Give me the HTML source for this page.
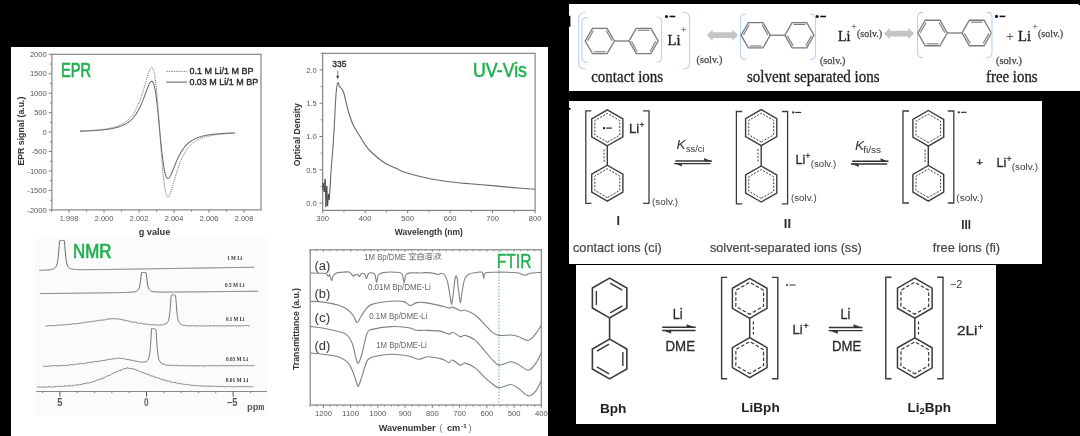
<!DOCTYPE html>
<html><head><meta charset="utf-8"><style>
html,body{margin:0;padding:0;background:#000;}
body{width:1080px;height:436px;overflow:hidden;}
svg{display:block;filter:blur(0.3px);}
</style></head><body>
<svg width="1080" height="436" viewBox="0 0 1080 436">
<rect x="0" y="0" width="1080" height="436" fill="#000"/>
<rect x="11" y="47" width="537" height="389" fill="#fff"/>
<rect x="569" y="4" width="511" height="87" fill="#fff"/>
<rect x="569" y="101" width="473" height="163" fill="#fff"/>
<rect x="576" y="265" width="420" height="159" fill="#fff"/>
<rect x="569" y="15.8" width="1.4" height="11" fill="#000"/>
<circle cx="569.6" cy="108.8" r="1.1" fill="#000"/>
<rect x="1078.6" y="3.5" width="1.4" height="1.6" fill="#000"/>
<path d="M585.20,12.20 Q578.70,12.20 578.70,18.70 L578.70,62.50 Q578.70,69.00 585.20,69.00" fill="none" stroke="#b8d3f0" stroke-width="1.1" stroke-linecap="round"/>
<path d="M587.50,17.40 Q582.00,17.40 582.00,22.90 L582.00,57.00 Q582.00,62.50 587.50,62.50" fill="none" stroke="#b8d3f0" stroke-width="1.1" stroke-linecap="round"/>
<polygon points="614.40,41.00 607.10,53.64 592.50,53.64 585.20,41.00 592.50,28.36 607.10,28.36" fill="none" stroke="#7a7a7a" stroke-width="1.3" />
<polygon points="658.20,41.00 650.90,53.64 636.30,53.64 629.00,41.00 636.30,28.36 650.90,28.36" fill="none" stroke="#7a7a7a" stroke-width="1.3" />
<line x1="587.57" y1="40.68" x2="593.41" y2="30.57" stroke="#7a7a7a" stroke-width="1.105" />
<line x1="606.19" y1="30.57" x2="612.03" y2="40.68" stroke="#7a7a7a" stroke-width="1.105" />
<line x1="605.64" y1="51.75" x2="593.96" y2="51.75" stroke="#7a7a7a" stroke-width="1.105" />
<line x1="637.76" y1="30.25" x2="649.44" y2="30.25" stroke="#7a7a7a" stroke-width="1.105" />
<line x1="637.21" y1="51.43" x2="631.37" y2="41.32" stroke="#7a7a7a" stroke-width="1.105" />
<line x1="655.83" y1="41.32" x2="649.99" y2="51.43" stroke="#7a7a7a" stroke-width="1.105" />
<line x1="614.40" y1="41.00" x2="629.00" y2="41.00" stroke="#7a7a7a" stroke-width="1.3" />
<path d="M656.80,17.00 Q661.60,17.00 661.60,22.50 L661.60,56.80 Q661.60,62.30 656.80,62.30" fill="none" stroke="#b8d3f0" stroke-width="1.1" stroke-linecap="round"/>
<path d="M683.30,12.20 Q689.60,12.20 689.60,18.70 L689.60,62.50 Q689.60,69.00 683.30,69.00" fill="none" stroke="#b8d3f0" stroke-width="1.1" stroke-linecap="round"/>
<circle cx="666.50" cy="16.50" r="1.55" fill="#111"/>
<rect x="669.55" y="15.70" width="5.8" height="1.6" fill="#111"/>
<text x="667.50" y="45.40" font-size="15.5" fill="#1a1a1a" font-family='"Liberation Serif", serif' font-weight="normal" text-anchor="start" textLength="13" lengthAdjust="spacingAndGlyphs" stroke="#1a1a1a" stroke-width="0.35">Li</text>
<text x="683.80" y="33.00" font-size="10.5" fill="#333" font-family='"Liberation Serif", serif' font-weight="normal" text-anchor="middle" >+</text>
<text x="696.60" y="62.80" font-size="10" fill="#444" font-family='"Liberation Serif", serif' font-weight="normal" text-anchor="start" textLength="25.7" lengthAdjust="spacingAndGlyphs" stroke="#444" stroke-width="0.25">(solv.)</text>
<text x="591.20" y="81.60" font-size="16" fill="#1e1e1e" font-family='"Liberation Serif", serif' font-weight="normal" text-anchor="start" textLength="72" lengthAdjust="spacingAndGlyphs" stroke="#1e1e1e" stroke-width="0.3">contact ions</text>
<polygon points="706.90,35.10 712.70,29.50 712.70,32.25 732.30,32.25 732.30,29.50 738.10,35.10 732.30,40.70 732.30,37.95 712.70,37.95 712.70,40.70" fill="#c4c4c4" stroke="none" stroke-width="0" />
<path d="M745.50,14.20 Q740.50,14.20 740.50,19.20 L740.50,54.60 Q740.50,59.60 745.50,59.60" fill="none" stroke="#b8d3f0" stroke-width="1.1" stroke-linecap="round"/>
<polygon points="770.25,35.20 762.95,47.84 748.35,47.84 741.05,35.20 748.35,22.56 762.95,22.56" fill="none" stroke="#7a7a7a" stroke-width="1.3" />
<polygon points="814.05,35.20 806.75,47.84 792.15,47.84 784.85,35.20 792.15,22.56 806.75,22.56" fill="none" stroke="#7a7a7a" stroke-width="1.3" />
<line x1="743.42" y1="34.88" x2="749.26" y2="24.77" stroke="#7a7a7a" stroke-width="1.105" />
<line x1="762.04" y1="24.77" x2="767.88" y2="34.88" stroke="#7a7a7a" stroke-width="1.105" />
<line x1="761.49" y1="45.95" x2="749.81" y2="45.95" stroke="#7a7a7a" stroke-width="1.105" />
<line x1="793.61" y1="24.45" x2="805.29" y2="24.45" stroke="#7a7a7a" stroke-width="1.105" />
<line x1="793.06" y1="45.63" x2="787.22" y2="35.52" stroke="#7a7a7a" stroke-width="1.105" />
<line x1="811.68" y1="35.52" x2="805.84" y2="45.63" stroke="#7a7a7a" stroke-width="1.105" />
<line x1="770.25" y1="35.20" x2="784.85" y2="35.20" stroke="#7a7a7a" stroke-width="1.3" />
<path d="M810.50,14.20 Q815.50,14.20 815.50,19.20 L815.50,54.60 Q815.50,59.60 810.50,59.60" fill="none" stroke="#b8d3f0" stroke-width="1.1" stroke-linecap="round"/>
<circle cx="817.20" cy="16.50" r="1.55" fill="#111"/>
<rect x="820.25" y="15.70" width="5.8" height="1.6" fill="#111"/>
<text x="820.00" y="63.80" font-size="10" fill="#444" font-family='"Liberation Serif", serif' font-weight="normal" text-anchor="start" textLength="25.5" lengthAdjust="spacingAndGlyphs" stroke="#444" stroke-width="0.25">(solv.)</text>
<text x="838.00" y="41.40" font-size="15.5" fill="#1a1a1a" font-family='"Liberation Serif", serif' font-weight="normal" text-anchor="start" textLength="12.5" lengthAdjust="spacingAndGlyphs" stroke="#1a1a1a" stroke-width="0.35">Li</text>
<text x="854.00" y="30.00" font-size="10.5" fill="#333" font-family='"Liberation Serif", serif' font-weight="normal" text-anchor="middle" >+</text>
<text x="857.00" y="37.00" font-size="10" fill="#444" font-family='"Liberation Serif", serif' font-weight="normal" text-anchor="start" textLength="25" lengthAdjust="spacingAndGlyphs" stroke="#444" stroke-width="0.25">(solv.)</text>
<text x="747.00" y="81.60" font-size="16" fill="#1e1e1e" font-family='"Liberation Serif", serif' font-weight="normal" text-anchor="start" textLength="132.6" lengthAdjust="spacingAndGlyphs" stroke="#1e1e1e" stroke-width="0.3">solvent separated ions</text>
<polygon points="884.00,33.60 889.80,28.00 889.80,30.75 908.20,30.75 908.20,28.00 914.00,33.60 908.20,39.20 908.20,36.45 889.80,36.45 889.80,39.20" fill="#c4c4c4" stroke="none" stroke-width="0" />
<path d="M922.60,12.40 Q917.60,12.40 917.60,17.40 L917.60,52.60 Q917.60,57.60 922.60,57.60" fill="none" stroke="#b8d3f0" stroke-width="1.1" stroke-linecap="round"/>
<polygon points="947.30,33.00 939.95,45.73 925.25,45.73 917.90,33.00 925.25,20.27 939.95,20.27" fill="none" stroke="#7a7a7a" stroke-width="1.3" />
<polygon points="991.40,33.00 984.05,45.73 969.35,45.73 962.00,33.00 969.35,20.27 984.05,20.27" fill="none" stroke="#7a7a7a" stroke-width="1.3" />
<line x1="920.29" y1="32.68" x2="926.17" y2="22.50" stroke="#7a7a7a" stroke-width="1.105" />
<line x1="939.03" y1="22.50" x2="944.91" y2="32.68" stroke="#7a7a7a" stroke-width="1.105" />
<line x1="938.48" y1="43.82" x2="926.72" y2="43.82" stroke="#7a7a7a" stroke-width="1.105" />
<line x1="970.82" y1="22.18" x2="982.58" y2="22.18" stroke="#7a7a7a" stroke-width="1.105" />
<line x1="970.27" y1="43.50" x2="964.39" y2="33.32" stroke="#7a7a7a" stroke-width="1.105" />
<line x1="989.01" y1="33.32" x2="983.13" y2="43.50" stroke="#7a7a7a" stroke-width="1.105" />
<line x1="947.30" y1="33.00" x2="962.00" y2="33.00" stroke="#7a7a7a" stroke-width="1.3" />
<path d="M987.00,12.40 Q992.00,12.40 992.00,17.40 L992.00,52.60 Q992.00,57.60 987.00,57.60" fill="none" stroke="#b8d3f0" stroke-width="1.1" stroke-linecap="round"/>
<circle cx="996.50" cy="16.40" r="1.55" fill="#111"/>
<rect x="999.55" y="15.60" width="5.8" height="1.6" fill="#111"/>
<text x="996.00" y="63.60" font-size="10" fill="#444" font-family='"Liberation Serif", serif' font-weight="normal" text-anchor="start" textLength="26" lengthAdjust="spacingAndGlyphs" stroke="#444" stroke-width="0.25">(solv.)</text>
<text x="1006.00" y="41.00" font-size="14" fill="#333" font-family='"Liberation Serif", serif' font-weight="normal" text-anchor="start" >+</text>
<text x="1018.00" y="41.00" font-size="15.5" fill="#1a1a1a" font-family='"Liberation Serif", serif' font-weight="normal" text-anchor="start" textLength="13" lengthAdjust="spacingAndGlyphs" stroke="#1a1a1a" stroke-width="0.35">Li</text>
<text x="1035.00" y="29.60" font-size="10.5" fill="#333" font-family='"Liberation Serif", serif' font-weight="normal" text-anchor="middle" >+</text>
<text x="1038.00" y="37.40" font-size="10" fill="#444" font-family='"Liberation Serif", serif' font-weight="normal" text-anchor="start" textLength="25" lengthAdjust="spacingAndGlyphs" stroke="#444" stroke-width="0.25">(solv.)</text>
<text x="986.00" y="81.60" font-size="16" fill="#1e1e1e" font-family='"Liberation Serif", serif' font-weight="normal" text-anchor="start" textLength="51.6" lengthAdjust="spacingAndGlyphs" stroke="#1e1e1e" stroke-width="0.3">free ions</text>
<path d="M591.40,110.80 L585.80,110.80 L585.80,203.30 L591.40,203.30" fill="none" stroke="#3c3c3c" stroke-width="1.3" stroke-linejoin="miter"/>
<path d="M643.10,110.80 L649.00,110.80 L649.00,203.30 L643.10,203.30" fill="none" stroke="#3c3c3c" stroke-width="1.3" stroke-linejoin="miter"/>
<polygon points="607.30,145.80 591.71,136.80 591.71,118.80 607.30,109.80 622.89,118.80 622.89,136.80" fill="none" stroke="#3c3c3c" stroke-width="1.4" />
<polygon points="607.30,142.20 594.83,135.00 594.83,120.60 607.30,113.40 619.77,120.60 619.77,135.00" fill="none" stroke="#3c3c3c" stroke-width="1.0" stroke-dasharray="2,1.5"/>
<polygon points="607.30,201.20 591.71,192.20 591.71,174.20 607.30,165.20 622.89,174.20 622.89,192.20" fill="none" stroke="#3c3c3c" stroke-width="1.4" />
<polygon points="607.30,197.60 594.83,190.40 594.83,176.00 607.30,168.80 619.77,176.00 619.77,190.40" fill="none" stroke="#3c3c3c" stroke-width="1.0" stroke-dasharray="2,1.5"/>
<line x1="607.30" y1="145.80" x2="607.30" y2="165.20" stroke="#3c3c3c" stroke-width="1.4" />
<line x1="604.10" y1="149.30" x2="604.10" y2="161.70" stroke="#3c3c3c" stroke-width="1.0" stroke-dasharray="2,1.5"/>
<circle cx="604.0" cy="128.1" r="1.2" fill="#222"/>
<line x1="606.20" y1="128.10" x2="611.80" y2="128.10" stroke="#222" stroke-width="1.2" />
<text x="629.00" y="132.80" font-size="13" fill="#2a2a2a" font-family='"Liberation Sans", sans-serif' font-weight="normal" text-anchor="start" textLength="10.3" lengthAdjust="spacingAndGlyphs" stroke="#2a2a2a" stroke-width="0.3">Li</text>
<text x="639.60" y="128.00" font-size="9" fill="#3c3c3c" font-family='"Liberation Sans", sans-serif' font-weight="bold" text-anchor="start" textLength="4.8" lengthAdjust="spacingAndGlyphs" >+</text>
<text x="652.10" y="204.80" font-size="9.6" fill="#3c3c3c" font-family='"Liberation Sans", sans-serif' font-weight="normal" text-anchor="start" textLength="26" lengthAdjust="spacingAndGlyphs" >(solv.)</text>
<text x="618.30" y="225.00" font-size="12.5" fill="#2a2a2a" font-family='"Liberation Sans", sans-serif' font-weight="bold" text-anchor="middle" >I</text>
<text x="573.00" y="252.20" font-size="12.7" fill="#444" font-family='"Liberation Sans", sans-serif' font-weight="normal" text-anchor="start" textLength="88.7" lengthAdjust="spacingAndGlyphs" stroke="#444" stroke-width="0.2">contact ions (ci)</text>
<text x="676.60" y="149.20" font-size="12.6" fill="#333" font-family='"Liberation Sans", sans-serif' font-weight="normal" text-anchor="start" textLength="9.2" lengthAdjust="spacingAndGlyphs" font-style="italic" >K</text>
<text x="686.00" y="152.40" font-size="9.5" fill="#333" font-family='"Liberation Sans", sans-serif' font-weight="normal" text-anchor="start" textLength="18.4" lengthAdjust="spacingAndGlyphs" >ss/ci</text>
<line x1="675.40" y1="160.90" x2="711.80" y2="160.90" stroke="#333" stroke-width="1.45" />
<polygon points="712.40,161.50 703.80,157.90 704.60,161.50" fill="#333" stroke="none" stroke-width="0" />
<line x1="674.20" y1="163.60" x2="710.60" y2="163.60" stroke="#333" stroke-width="1.45" />
<polygon points="673.60,163.00 682.20,166.60 681.40,163.00" fill="#333" stroke="none" stroke-width="0" />
<path d="M742.20,111.50 L736.40,111.50 L736.40,203.80 L742.20,203.80" fill="none" stroke="#3c3c3c" stroke-width="1.3" stroke-linejoin="miter"/>
<path d="M782.00,111.50 L787.60,111.50 L787.60,203.80 L782.00,203.80" fill="none" stroke="#3c3c3c" stroke-width="1.3" stroke-linejoin="miter"/>
<polygon points="761.20,145.60 745.61,136.60 745.61,118.60 761.20,109.60 776.79,118.60 776.79,136.60" fill="none" stroke="#3c3c3c" stroke-width="1.4" />
<polygon points="761.20,142.00 748.73,134.80 748.73,120.40 761.20,113.20 773.67,120.40 773.67,134.80" fill="none" stroke="#3c3c3c" stroke-width="1.0" stroke-dasharray="2,1.5"/>
<polygon points="761.20,202.00 745.61,193.00 745.61,175.00 761.20,166.00 776.79,175.00 776.79,193.00" fill="none" stroke="#3c3c3c" stroke-width="1.4" />
<polygon points="761.20,198.40 748.73,191.20 748.73,176.80 761.20,169.60 773.67,176.80 773.67,191.20" fill="none" stroke="#3c3c3c" stroke-width="1.0" stroke-dasharray="2,1.5"/>
<line x1="761.20" y1="145.60" x2="761.20" y2="166.00" stroke="#3c3c3c" stroke-width="1.4" />
<line x1="758.00" y1="149.10" x2="758.00" y2="162.50" stroke="#3c3c3c" stroke-width="1.0" stroke-dasharray="2,1.5"/>
<circle cx="793.2" cy="112.4" r="1.1" fill="#222"/>
<line x1="795.20" y1="112.40" x2="801.20" y2="112.40" stroke="#222" stroke-width="1.1" />
<text x="795.60" y="163.90" font-size="13" fill="#2a2a2a" font-family='"Liberation Sans", sans-serif' font-weight="normal" text-anchor="start" textLength="9.8" lengthAdjust="spacingAndGlyphs" stroke="#2a2a2a" stroke-width="0.3">Li</text>
<text x="805.40" y="159.20" font-size="9" fill="#3c3c3c" font-family='"Liberation Sans", sans-serif' font-weight="bold" text-anchor="start" textLength="4.8" lengthAdjust="spacingAndGlyphs" >+</text>
<text x="810.80" y="166.90" font-size="9.6" fill="#3c3c3c" font-family='"Liberation Sans", sans-serif' font-weight="normal" text-anchor="start" textLength="25.5" lengthAdjust="spacingAndGlyphs" >(solv.)</text>
<text x="791.00" y="200.80" font-size="9.6" fill="#3c3c3c" font-family='"Liberation Sans", sans-serif' font-weight="normal" text-anchor="start" textLength="25.8" lengthAdjust="spacingAndGlyphs" >(solv.)</text>
<text x="787.40" y="228.30" font-size="13" fill="#2a2a2a" font-family='"Liberation Sans", sans-serif' font-weight="bold" text-anchor="middle" >II</text>
<text x="710.00" y="252.20" font-size="12.7" fill="#444" font-family='"Liberation Sans", sans-serif' font-weight="normal" text-anchor="start" textLength="151.7" lengthAdjust="spacingAndGlyphs" stroke="#444" stroke-width="0.2">solvent-separated ions (ss)</text>
<text x="855.00" y="149.60" font-size="12.6" fill="#333" font-family='"Liberation Sans", sans-serif' font-weight="normal" text-anchor="start" textLength="9.2" lengthAdjust="spacingAndGlyphs" font-style="italic" >K</text>
<text x="863.20" y="152.60" font-size="9.5" fill="#333" font-family='"Liberation Sans", sans-serif' font-weight="normal" text-anchor="start" textLength="17.8" lengthAdjust="spacingAndGlyphs" >fi/ss</text>
<line x1="852.20" y1="161.30" x2="888.40" y2="161.30" stroke="#333" stroke-width="1.45" />
<polygon points="889.00,161.90 880.40,158.30 881.20,161.90" fill="#333" stroke="none" stroke-width="0" />
<line x1="851.00" y1="164.00" x2="887.20" y2="164.00" stroke="#333" stroke-width="1.45" />
<polygon points="850.40,163.40 859.00,167.00 858.20,163.40" fill="#333" stroke="none" stroke-width="0" />
<path d="M909.00,111.00 L903.00,111.00 L903.00,203.00 L909.00,203.00" fill="none" stroke="#3c3c3c" stroke-width="1.3" stroke-linejoin="miter"/>
<path d="M947.80,111.00 L953.80,111.00 L953.80,203.00 L947.80,203.00" fill="none" stroke="#3c3c3c" stroke-width="1.3" stroke-linejoin="miter"/>
<polygon points="928.30,146.10 912.88,137.20 912.88,119.40 928.30,110.50 943.72,119.40 943.72,137.20" fill="none" stroke="#3c3c3c" stroke-width="1.4" />
<polygon points="928.30,142.50 916.00,135.40 916.00,121.20 928.30,114.10 940.60,121.20 940.60,135.40" fill="none" stroke="#3c3c3c" stroke-width="1.0" stroke-dasharray="2,1.5"/>
<polygon points="928.30,201.10 912.88,192.20 912.88,174.40 928.30,165.50 943.72,174.40 943.72,192.20" fill="none" stroke="#3c3c3c" stroke-width="1.4" />
<polygon points="928.30,197.50 916.00,190.40 916.00,176.20 928.30,169.10 940.60,176.20 940.60,190.40" fill="none" stroke="#3c3c3c" stroke-width="1.0" stroke-dasharray="2,1.5"/>
<line x1="928.30" y1="146.10" x2="928.30" y2="165.50" stroke="#3c3c3c" stroke-width="1.4" />
<line x1="925.10" y1="149.60" x2="925.10" y2="162.00" stroke="#3c3c3c" stroke-width="1.0" stroke-dasharray="2,1.5"/>
<circle cx="958.8" cy="112.3" r="1.1" fill="#222"/>
<line x1="961.00" y1="112.30" x2="966.50" y2="112.30" stroke="#222" stroke-width="1.1" />
<text x="956.30" y="201.00" font-size="9.6" fill="#3c3c3c" font-family='"Liberation Sans", sans-serif' font-weight="normal" text-anchor="start" textLength="26.7" lengthAdjust="spacingAndGlyphs" >(solv.)</text>
<text x="979.50" y="166.40" font-size="11.5" fill="#3c3c3c" font-family='"Liberation Sans", sans-serif' font-weight="bold" text-anchor="middle" >+</text>
<text x="996.40" y="166.90" font-size="13" fill="#2a2a2a" font-family='"Liberation Sans", sans-serif' font-weight="normal" text-anchor="start" textLength="10" lengthAdjust="spacingAndGlyphs" stroke="#2a2a2a" stroke-width="0.3">Li</text>
<text x="1006.60" y="161.60" font-size="9" fill="#3c3c3c" font-family='"Liberation Sans", sans-serif' font-weight="bold" text-anchor="start" textLength="5.2" lengthAdjust="spacingAndGlyphs" >+</text>
<text x="1011.70" y="169.80" font-size="9.6" fill="#3c3c3c" font-family='"Liberation Sans", sans-serif' font-weight="normal" text-anchor="start" textLength="26.5" lengthAdjust="spacingAndGlyphs" >(solv.)</text>
<text x="966.10" y="228.80" font-size="13" fill="#2a2a2a" font-family='"Liberation Sans", sans-serif' font-weight="bold" text-anchor="middle" textLength="9.6" lengthAdjust="spacingAndGlyphs" >III</text>
<text x="932.80" y="252.20" font-size="12.7" fill="#444" font-family='"Liberation Sans", sans-serif' font-weight="normal" text-anchor="start" textLength="67.2" lengthAdjust="spacingAndGlyphs" stroke="#444" stroke-width="0.2">free ions (fi)</text>
<polygon points="609.60,317.90 592.37,307.95 592.37,288.05 609.60,278.10 626.83,288.05 626.83,307.95" fill="none" stroke="#3a3a3a" stroke-width="1.6" />
<line x1="610.12" y1="283.02" x2="622.31" y2="290.06" stroke="#3a3a3a" stroke-width="1.4" />
<line x1="596.37" y1="305.04" x2="596.37" y2="290.96" stroke="#3a3a3a" stroke-width="1.4" />
<line x1="622.31" y1="305.94" x2="610.12" y2="312.98" stroke="#3a3a3a" stroke-width="1.4" />
<polygon points="609.60,378.90 592.37,368.95 592.37,349.05 609.60,339.10 626.83,349.05 626.83,368.95" fill="none" stroke="#3a3a3a" stroke-width="1.6" />
<line x1="596.89" y1="351.06" x2="609.08" y2="344.02" stroke="#3a3a3a" stroke-width="1.4" />
<line x1="622.83" y1="351.96" x2="622.83" y2="366.04" stroke="#3a3a3a" stroke-width="1.4" />
<line x1="609.08" y1="373.98" x2="596.89" y2="366.94" stroke="#3a3a3a" stroke-width="1.4" />
<line x1="609.60" y1="317.90" x2="609.60" y2="339.10" stroke="#3a3a3a" stroke-width="1.6" />
<text x="613.20" y="412.80" font-size="13.5" fill="#222" font-family='"Liberation Sans", sans-serif' font-weight="bold" text-anchor="middle" textLength="26.5" lengthAdjust="spacingAndGlyphs" >Bph</text>
<text x="672.70" y="318.60" font-size="14" fill="#2a2a2a" font-family='"Liberation Sans", sans-serif' font-weight="normal" text-anchor="start" textLength="10.0" lengthAdjust="spacingAndGlyphs" stroke="#2a2a2a" stroke-width="0.3">Li</text>
<line x1="662.20" y1="327.30" x2="695.60" y2="327.30" stroke="#333" stroke-width="1.45" />
<polygon points="696.20,327.80 686.60,324.20 686.60,327.30" fill="#333" stroke="none" stroke-width="0" />
<line x1="662.20" y1="330.50" x2="695.60" y2="330.50" stroke="#333" stroke-width="1.45" />
<polygon points="661.60,330.00 671.20,333.60 671.20,330.50" fill="#333" stroke="none" stroke-width="0" />
<text x="665.50" y="350.60" font-size="14" fill="#2a2a2a" font-family='"Liberation Sans", sans-serif' font-weight="normal" text-anchor="start" textLength="29.5" lengthAdjust="spacingAndGlyphs" stroke="#2a2a2a" stroke-width="0.3">DME</text>
<path d="M727.20,277.40 L721.60,277.40 L721.60,378.70 L727.20,378.70" fill="none" stroke="#3a3a3a" stroke-width="1.4" stroke-linejoin="miter"/>
<path d="M772.00,277.40 L777.80,277.40 L777.80,378.70 L772.00,378.70" fill="none" stroke="#3a3a3a" stroke-width="1.4" stroke-linejoin="miter"/>
<polygon points="749.70,318.30 732.38,308.30 732.38,288.30 749.70,278.30 767.02,288.30 767.02,308.30" fill="none" stroke="#3a3a3a" stroke-width="1.5" />
<polygon points="749.70,314.30 735.84,306.30 735.84,290.30 749.70,282.30 763.56,290.30 763.56,306.30" fill="none" stroke="#3a3a3a" stroke-width="1.2" stroke-dasharray="3.6,2.0" stroke-dashoffset="1"/>
<polygon points="749.70,377.60 732.38,367.60 732.38,347.60 749.70,337.60 767.02,347.60 767.02,367.60" fill="none" stroke="#3a3a3a" stroke-width="1.5" />
<polygon points="749.70,373.60 735.84,365.60 735.84,349.60 749.70,341.60 763.56,349.60 763.56,365.60" fill="none" stroke="#3a3a3a" stroke-width="1.2" stroke-dasharray="3.6,2.0" stroke-dashoffset="1"/>
<line x1="749.70" y1="318.30" x2="749.70" y2="337.60" stroke="#3a3a3a" stroke-width="1.5" />
<line x1="753.40" y1="321.50" x2="753.40" y2="334.50" stroke="#3a3a3a" stroke-width="1.2" stroke-dasharray="3,2.2"/>
<circle cx="787.0" cy="285.0" r="1.0" fill="#333"/>
<line x1="789.40" y1="285.00" x2="795.50" y2="285.00" stroke="#333" stroke-width="1.0" />
<text x="792.60" y="333.70" font-size="13.4" fill="#2a2a2a" font-family='"Liberation Sans", sans-serif' font-weight="normal" text-anchor="start" textLength="10.1" lengthAdjust="spacingAndGlyphs" stroke="#2a2a2a" stroke-width="0.3">Li</text>
<text x="803.20" y="329.00" font-size="9" fill="#3a3a3a" font-family='"Liberation Sans", sans-serif' font-weight="bold" text-anchor="start" textLength="5.6" lengthAdjust="spacingAndGlyphs" >+</text>
<text x="760.50" y="412.40" font-size="13.5" fill="#222" font-family='"Liberation Sans", sans-serif' font-weight="bold" text-anchor="middle" textLength="38.3" lengthAdjust="spacingAndGlyphs" >LiBph</text>
<text x="840.50" y="318.60" font-size="14" fill="#2a2a2a" font-family='"Liberation Sans", sans-serif' font-weight="normal" text-anchor="start" textLength="9.8" lengthAdjust="spacingAndGlyphs" stroke="#2a2a2a" stroke-width="0.3">Li</text>
<line x1="828.80" y1="327.40" x2="862.50" y2="327.40" stroke="#333" stroke-width="1.45" />
<polygon points="863.10,327.90 853.50,324.30 853.50,327.40" fill="#333" stroke="none" stroke-width="0" />
<line x1="828.80" y1="330.60" x2="862.50" y2="330.60" stroke="#333" stroke-width="1.45" />
<polygon points="828.20,330.10 837.80,333.70 837.80,330.60" fill="#333" stroke="none" stroke-width="0" />
<text x="832.00" y="350.60" font-size="14" fill="#2a2a2a" font-family='"Liberation Sans", sans-serif' font-weight="normal" text-anchor="start" textLength="29.2" lengthAdjust="spacingAndGlyphs" stroke="#2a2a2a" stroke-width="0.3">DME</text>
<path d="M891.40,277.20 L885.80,277.20 L885.80,378.80 L891.40,378.80" fill="none" stroke="#3a3a3a" stroke-width="1.4" stroke-linejoin="miter"/>
<path d="M937.20,277.20 L943.00,277.20 L943.00,378.80 L937.20,378.80" fill="none" stroke="#3a3a3a" stroke-width="1.4" stroke-linejoin="miter"/>
<polygon points="914.80,318.20 897.48,308.20 897.48,288.20 914.80,278.20 932.12,288.20 932.12,308.20" fill="none" stroke="#3a3a3a" stroke-width="1.5" />
<polygon points="914.80,314.20 900.94,306.20 900.94,290.20 914.80,282.20 928.66,290.20 928.66,306.20" fill="none" stroke="#3a3a3a" stroke-width="1.2" stroke-dasharray="3.6,2.0" stroke-dashoffset="1"/>
<polygon points="914.80,377.80 897.48,367.80 897.48,347.80 914.80,337.80 932.12,347.80 932.12,367.80" fill="none" stroke="#3a3a3a" stroke-width="1.5" />
<polygon points="914.80,373.80 900.94,365.80 900.94,349.80 914.80,341.80 928.66,349.80 928.66,365.80" fill="none" stroke="#3a3a3a" stroke-width="1.2" stroke-dasharray="3.6,2.0" stroke-dashoffset="1"/>
<line x1="914.80" y1="318.20" x2="914.80" y2="337.80" stroke="#3a3a3a" stroke-width="1.5" />
<line x1="918.50" y1="321.50" x2="918.50" y2="334.50" stroke="#3a3a3a" stroke-width="1.2" stroke-dasharray="3,2.2"/>
<text x="950.00" y="287.60" font-size="11" fill="#3a3a3a" font-family='"Liberation Sans", sans-serif' font-weight="normal" text-anchor="start" textLength="12.4" lengthAdjust="spacingAndGlyphs" >−2</text>
<text x="957.00" y="335.00" font-size="13.4" fill="#2a2a2a" font-family='"Liberation Sans", sans-serif' font-weight="normal" text-anchor="start" textLength="20.5" lengthAdjust="spacingAndGlyphs" stroke="#2a2a2a" stroke-width="0.3">2Li</text>
<text x="977.80" y="329.60" font-size="9" fill="#3a3a3a" font-family='"Liberation Sans", sans-serif' font-weight="bold" text-anchor="start" textLength="5.6" lengthAdjust="spacingAndGlyphs" >+</text>
<text x="907.5" y="411.5" font-size="13.5" fill="#222" font-family='"Liberation Sans", sans-serif' font-weight="bold">Li<tspan font-size="9.5" dy="2.8">2</tspan><tspan dy="-2.8">Bph</tspan></text>
<rect x="51.9" y="54.3" width="209.10" height="155.60" fill="none" stroke="#7a7a7a" stroke-width="1.1"/>
<line x1="48.70" y1="54.30" x2="51.90" y2="54.30" stroke="#7a7a7a" stroke-width="1" />
<text x="46.80" y="57.00" font-size="7.6" fill="#555" font-family='"Liberation Sans", sans-serif' font-weight="normal" text-anchor="end" >2000</text>
<line x1="49.90" y1="64.03" x2="51.90" y2="64.03" stroke="#7a7a7a" stroke-width="0.9" />
<line x1="48.70" y1="73.75" x2="51.90" y2="73.75" stroke="#7a7a7a" stroke-width="1" />
<text x="46.80" y="76.45" font-size="7.6" fill="#555" font-family='"Liberation Sans", sans-serif' font-weight="normal" text-anchor="end" >1500</text>
<line x1="49.90" y1="83.47" x2="51.90" y2="83.47" stroke="#7a7a7a" stroke-width="0.9" />
<line x1="48.70" y1="93.20" x2="51.90" y2="93.20" stroke="#7a7a7a" stroke-width="1" />
<text x="46.80" y="95.90" font-size="7.6" fill="#555" font-family='"Liberation Sans", sans-serif' font-weight="normal" text-anchor="end" >1000</text>
<line x1="49.90" y1="102.93" x2="51.90" y2="102.93" stroke="#7a7a7a" stroke-width="0.9" />
<line x1="48.70" y1="112.65" x2="51.90" y2="112.65" stroke="#7a7a7a" stroke-width="1" />
<text x="46.80" y="115.35" font-size="7.6" fill="#555" font-family='"Liberation Sans", sans-serif' font-weight="normal" text-anchor="end" >500</text>
<line x1="49.90" y1="122.38" x2="51.90" y2="122.38" stroke="#7a7a7a" stroke-width="0.9" />
<line x1="48.70" y1="132.10" x2="51.90" y2="132.10" stroke="#7a7a7a" stroke-width="1" />
<text x="46.80" y="134.80" font-size="7.6" fill="#555" font-family='"Liberation Sans", sans-serif' font-weight="normal" text-anchor="end" >0</text>
<line x1="49.90" y1="141.83" x2="51.90" y2="141.83" stroke="#7a7a7a" stroke-width="0.9" />
<line x1="48.70" y1="151.55" x2="51.90" y2="151.55" stroke="#7a7a7a" stroke-width="1" />
<text x="46.80" y="154.25" font-size="7.6" fill="#555" font-family='"Liberation Sans", sans-serif' font-weight="normal" text-anchor="end" >-500</text>
<line x1="49.90" y1="161.28" x2="51.90" y2="161.28" stroke="#7a7a7a" stroke-width="0.9" />
<line x1="48.70" y1="171.00" x2="51.90" y2="171.00" stroke="#7a7a7a" stroke-width="1" />
<text x="46.80" y="173.70" font-size="7.6" fill="#555" font-family='"Liberation Sans", sans-serif' font-weight="normal" text-anchor="end" >-1000</text>
<line x1="49.90" y1="180.72" x2="51.90" y2="180.72" stroke="#7a7a7a" stroke-width="0.9" />
<line x1="48.70" y1="190.45" x2="51.90" y2="190.45" stroke="#7a7a7a" stroke-width="1" />
<text x="46.80" y="193.15" font-size="7.6" fill="#555" font-family='"Liberation Sans", sans-serif' font-weight="normal" text-anchor="end" >-1500</text>
<line x1="49.90" y1="200.18" x2="51.90" y2="200.18" stroke="#7a7a7a" stroke-width="0.9" />
<line x1="48.70" y1="209.90" x2="51.90" y2="209.90" stroke="#7a7a7a" stroke-width="1" />
<text x="46.80" y="212.60" font-size="7.6" fill="#555" font-family='"Liberation Sans", sans-serif' font-weight="normal" text-anchor="end" >-2000</text>
<line x1="69.05" y1="209.90" x2="69.05" y2="212.70" stroke="#7a7a7a" stroke-width="1" />
<text x="69.05" y="220.90" font-size="7.6" fill="#555" font-family='"Liberation Sans", sans-serif' font-weight="normal" text-anchor="middle" textLength="18.4" lengthAdjust="spacingAndGlyphs" >1.998</text>
<line x1="86.55" y1="209.90" x2="86.55" y2="211.90" stroke="#7a7a7a" stroke-width="0.9" />
<line x1="104.05" y1="209.90" x2="104.05" y2="212.70" stroke="#7a7a7a" stroke-width="1" />
<text x="104.05" y="220.90" font-size="7.6" fill="#555" font-family='"Liberation Sans", sans-serif' font-weight="normal" text-anchor="middle" textLength="18.4" lengthAdjust="spacingAndGlyphs" >2.000</text>
<line x1="121.55" y1="209.90" x2="121.55" y2="211.90" stroke="#7a7a7a" stroke-width="0.9" />
<line x1="139.05" y1="209.90" x2="139.05" y2="212.70" stroke="#7a7a7a" stroke-width="1" />
<text x="139.05" y="220.90" font-size="7.6" fill="#555" font-family='"Liberation Sans", sans-serif' font-weight="normal" text-anchor="middle" textLength="18.4" lengthAdjust="spacingAndGlyphs" >2.002</text>
<line x1="156.55" y1="209.90" x2="156.55" y2="211.90" stroke="#7a7a7a" stroke-width="0.9" />
<line x1="174.05" y1="209.90" x2="174.05" y2="212.70" stroke="#7a7a7a" stroke-width="1" />
<text x="174.05" y="220.90" font-size="7.6" fill="#555" font-family='"Liberation Sans", sans-serif' font-weight="normal" text-anchor="middle" textLength="18.4" lengthAdjust="spacingAndGlyphs" >2.004</text>
<line x1="191.55" y1="209.90" x2="191.55" y2="211.90" stroke="#7a7a7a" stroke-width="0.9" />
<line x1="209.05" y1="209.90" x2="209.05" y2="212.70" stroke="#7a7a7a" stroke-width="1" />
<text x="209.05" y="220.90" font-size="7.6" fill="#555" font-family='"Liberation Sans", sans-serif' font-weight="normal" text-anchor="middle" textLength="18.4" lengthAdjust="spacingAndGlyphs" >2.006</text>
<line x1="226.55" y1="209.90" x2="226.55" y2="211.90" stroke="#7a7a7a" stroke-width="0.9" />
<line x1="244.05" y1="209.90" x2="244.05" y2="212.70" stroke="#7a7a7a" stroke-width="1" />
<text x="244.05" y="220.90" font-size="7.6" fill="#555" font-family='"Liberation Sans", sans-serif' font-weight="normal" text-anchor="middle" textLength="18.4" lengthAdjust="spacingAndGlyphs" >2.008</text>
<line x1="51.55" y1="209.90" x2="51.55" y2="211.90" stroke="#7a7a7a" stroke-width="0.9" />
<text x="154.50" y="235.20" font-size="9" fill="#333" font-family='"Liberation Sans", sans-serif' font-weight="bold" text-anchor="middle" textLength="31.5" lengthAdjust="spacingAndGlyphs" >g value</text>
<text x="0" y="0" font-size="8.7" fill="#333" font-family='"Liberation Sans", sans-serif' font-weight="bold" text-anchor="middle" textLength="69" lengthAdjust="spacingAndGlyphs" transform="translate(24.4,131.1) rotate(-90)">EPR signal (a.u.)</text>
<path d="M80.00,130.97 L80.50,130.95 L81.00,130.93 L81.50,130.91 L82.00,130.89 L82.50,130.87 L83.00,130.85 L83.50,130.82 L84.00,130.80 L84.50,130.78 L85.00,130.76 L85.50,130.73 L86.00,130.71 L86.50,130.68 L87.00,130.66 L87.50,130.63 L88.00,130.60 L88.50,130.57 L89.00,130.54 L89.50,130.51 L90.00,130.48 L90.50,130.45 L91.00,130.42 L91.50,130.39 L92.00,130.35 L92.50,130.32 L93.00,130.28 L93.50,130.25 L94.00,130.21 L94.50,130.17 L95.00,130.13 L95.50,130.09 L96.00,130.04 L96.50,130.00 L97.00,129.96 L97.50,129.91 L98.00,129.86 L98.50,129.81 L99.00,129.76 L99.50,129.71 L100.00,129.66 L100.50,129.60 L101.00,129.54 L101.50,129.48 L102.00,129.42 L102.50,129.36 L103.00,129.30 L103.50,129.23 L104.00,129.16 L104.50,129.09 L105.00,129.01 L105.50,128.94 L106.00,128.86 L106.50,128.78 L107.00,128.69 L107.50,128.61 L108.00,128.52 L108.50,128.42 L109.00,128.33 L109.50,128.23 L110.00,128.12 L110.50,128.02 L111.00,127.91 L111.50,127.79 L112.00,127.67 L112.50,127.55 L113.00,127.42 L113.50,127.29 L114.00,127.15 L114.50,127.01 L115.00,126.86 L115.50,126.70 L116.00,126.54 L116.50,126.38 L117.00,126.20 L117.50,126.02 L118.00,125.84 L118.50,125.64 L119.00,125.44 L119.50,125.23 L120.00,125.01 L120.50,124.78 L121.00,124.54 L121.50,124.29 L122.00,124.03 L122.50,123.76 L123.00,123.48 L123.50,123.19 L124.00,122.88 L124.50,122.56 L125.00,122.23 L125.50,121.88 L126.00,121.51 L126.50,121.13 L127.00,120.73 L127.50,120.31 L128.00,119.88 L128.50,119.42 L129.00,118.94 L129.50,118.44 L130.00,117.92 L130.50,117.37 L131.00,116.80 L131.50,116.19 L132.00,115.57 L132.50,114.91 L133.00,114.21 L133.50,113.49 L134.00,112.73 L134.50,111.94 L135.00,111.11 L135.50,110.23 L136.00,109.32 L136.50,108.37 L137.00,107.37 L137.50,106.32 L138.00,105.23 L138.50,104.09 L139.00,102.90 L139.50,101.66 L140.00,100.36 L140.50,99.02 L141.00,97.62 L141.50,96.17 L142.00,94.67 L142.50,93.12 L143.00,91.52 L143.50,89.88 L144.00,88.20 L144.50,86.49 L145.00,84.75 L145.50,82.99 L146.00,81.24 L146.50,79.49 L147.00,77.76 L147.50,76.08 L148.00,74.47 L148.50,72.95 L149.00,71.54 L149.50,70.29 L150.00,69.22 L150.50,68.37 L151.00,67.79 L151.50,67.52 L152.00,67.59 L152.50,68.06 L153.00,68.97 L153.50,70.36 L154.00,72.27 L154.50,74.72 L155.00,77.74 L155.50,81.34 L156.00,85.52 L156.50,90.26 L157.00,95.53 L157.50,101.29 L158.00,107.48 L158.50,114.02 L159.00,120.82 L159.50,127.78 L160.00,134.83 L160.50,141.85 L161.00,148.72 L161.50,155.35 L162.00,161.64 L162.50,167.52 L163.00,172.92 L163.50,177.79 L164.00,182.10 L164.50,185.84 L165.00,188.99 L165.50,191.56 L166.00,193.58 L166.50,195.08 L167.00,196.09 L167.50,196.65 L168.00,196.80 L168.50,196.59 L169.00,196.06 L169.50,195.26 L170.00,194.23 L170.50,193.00 L171.00,191.62 L171.50,190.11 L172.00,188.51 L172.50,186.83 L173.00,185.11 L173.50,183.35 L174.00,181.59 L174.50,179.82 L175.00,178.07 L175.50,176.35 L176.00,174.65 L176.50,173.00 L177.00,171.38 L177.50,169.81 L178.00,168.30 L178.50,166.83 L179.00,165.41 L179.50,164.05 L180.00,162.74 L180.50,161.48 L181.00,160.28 L181.50,159.12 L182.00,158.01 L182.50,156.95 L183.00,155.94 L183.50,154.97 L184.00,154.05 L184.50,153.16 L185.00,152.32 L185.50,151.51 L186.00,150.75 L186.50,150.01 L187.00,149.31 L187.50,148.64 L188.00,148.00 L188.50,147.39 L189.00,146.81 L189.50,146.26 L190.00,145.72 L190.50,145.22 L191.00,144.73 L191.50,144.27 L192.00,143.83 L192.50,143.40 L193.00,143.00 L193.50,142.61 L194.00,142.24 L194.50,141.89 L195.00,141.55 L195.50,141.23 L196.00,140.91 L196.50,140.62 L197.00,140.33 L197.50,140.06 L198.00,139.79 L198.50,139.54 L199.00,139.30 L199.50,139.07 L200.00,138.85 L200.50,138.63 L201.00,138.43 L201.50,138.23 L202.00,138.04 L202.50,137.86 L203.00,137.68 L203.50,137.51 L204.00,137.35 L204.50,137.20 L205.00,137.05 L205.50,136.90 L206.00,136.76 L206.50,136.63 L207.00,136.50 L207.50,136.37 L208.00,136.25 L208.50,136.14 L209.00,136.02 L209.50,135.91 L210.00,135.81 L210.50,135.71 L211.00,135.61 L211.50,135.52 L212.00,135.43 L212.50,135.34 L213.00,135.25 L213.50,135.17 L214.00,135.09 L214.50,135.01 L215.00,134.94 L215.50,134.87 L216.00,134.80 L216.50,134.73 L217.00,134.66 L217.50,134.60 L218.00,134.54 L218.50,134.48 L219.00,134.42 L219.50,134.37 L220.00,134.31 L220.50,134.26 L221.00,134.21 L221.50,134.16 L222.00,134.11 L222.50,134.06 L223.00,134.02 L223.50,133.97 L224.00,133.93 L224.50,133.89 L225.00,133.85 L225.50,133.81 L226.00,133.77 L226.50,133.73 L227.00,133.70 L227.50,133.66 L228.00,133.63 L228.50,133.59 L229.00,133.56 L229.50,133.53 L230.00,133.50 L230.50,133.47 L231.00,133.44 L231.50,133.41 L232.00,133.38 L232.50,133.36 L233.00,133.33 L233.50,133.30 L234.00,133.28 L234.50,133.26 L235.00,133.23" fill="none" stroke="#777" stroke-width="1.0" stroke-dasharray="1.2,0.9"/>
<path d="M80.00,131.19 L80.50,131.17 L81.00,131.16 L81.50,131.14 L82.00,131.12 L82.50,131.11 L83.00,131.09 L83.50,131.07 L84.00,131.06 L84.50,131.04 L85.00,131.02 L85.50,131.00 L86.00,130.98 L86.50,130.96 L87.00,130.94 L87.50,130.92 L88.00,130.90 L88.50,130.88 L89.00,130.85 L89.50,130.83 L90.00,130.81 L90.50,130.78 L91.00,130.76 L91.50,130.73 L92.00,130.70 L92.50,130.68 L93.00,130.65 L93.50,130.62 L94.00,130.59 L94.50,130.56 L95.00,130.53 L95.50,130.49 L96.00,130.46 L96.50,130.43 L97.00,130.39 L97.50,130.35 L98.00,130.32 L98.50,130.28 L99.00,130.24 L99.50,130.20 L100.00,130.15 L100.50,130.11 L101.00,130.07 L101.50,130.02 L102.00,129.97 L102.50,129.92 L103.00,129.87 L103.50,129.82 L104.00,129.76 L104.50,129.71 L105.00,129.65 L105.50,129.59 L106.00,129.53 L106.50,129.46 L107.00,129.40 L107.50,129.33 L108.00,129.26 L108.50,129.18 L109.00,129.11 L109.50,129.03 L110.00,128.95 L110.50,128.86 L111.00,128.78 L111.50,128.69 L112.00,128.59 L112.50,128.49 L113.00,128.39 L113.50,128.29 L114.00,128.18 L114.50,128.07 L115.00,127.95 L115.50,127.83 L116.00,127.70 L116.50,127.57 L117.00,127.44 L117.50,127.29 L118.00,127.15 L118.50,126.99 L119.00,126.83 L119.50,126.67 L120.00,126.49 L120.50,126.31 L121.00,126.13 L121.50,125.93 L122.00,125.73 L122.50,125.51 L123.00,125.29 L123.50,125.06 L124.00,124.82 L124.50,124.57 L125.00,124.30 L125.50,124.03 L126.00,123.74 L126.50,123.44 L127.00,123.12 L127.50,122.79 L128.00,122.45 L128.50,122.09 L129.00,121.72 L129.50,121.32 L130.00,120.91 L130.50,120.48 L131.00,120.03 L131.50,119.55 L132.00,119.06 L132.50,118.54 L133.00,117.99 L133.50,117.42 L134.00,116.82 L134.50,116.20 L135.00,115.54 L135.50,114.86 L136.00,114.14 L136.50,113.39 L137.00,112.60 L137.50,111.78 L138.00,110.92 L138.50,110.02 L139.00,109.08 L139.50,108.10 L140.00,107.08 L140.50,106.02 L141.00,104.92 L141.50,103.78 L142.00,102.60 L142.50,101.38 L143.00,100.12 L143.50,98.82 L144.00,97.50 L144.50,96.15 L145.00,94.78 L145.50,93.40 L146.00,92.02 L146.50,90.64 L147.00,89.28 L147.50,87.96 L148.00,86.69 L148.50,85.49 L149.00,84.38 L149.50,83.40 L150.00,82.55 L150.50,81.89 L151.00,81.43 L151.50,81.21 L152.00,81.27 L152.50,81.64 L153.00,82.36 L153.50,83.45 L154.00,84.95 L154.50,86.89 L155.00,89.26 L155.50,92.10 L156.00,95.39 L156.50,99.12 L157.00,103.28 L157.50,107.81 L158.00,112.69 L158.50,117.84 L159.00,123.19 L159.50,128.68 L160.00,134.02 L160.50,139.05 L161.00,143.97 L161.50,148.72 L162.00,153.22 L162.50,157.43 L163.00,161.30 L163.50,164.79 L164.00,167.88 L164.50,170.55 L165.00,172.81 L165.50,174.65 L166.00,176.10 L166.50,177.17 L167.00,177.89 L167.50,178.29 L168.00,178.40 L168.50,178.25 L169.00,177.87 L169.50,177.30 L170.00,176.56 L170.50,175.68 L171.00,174.69 L171.50,173.61 L172.00,172.46 L172.50,171.26 L173.00,170.03 L173.50,168.77 L174.00,167.51 L174.50,166.24 L175.00,164.99 L175.50,163.76 L176.00,162.54 L176.50,161.36 L177.00,160.20 L177.50,159.08 L178.00,157.99 L178.50,156.94 L179.00,155.93 L179.50,154.95 L180.00,154.01 L180.50,153.11 L181.00,152.25 L181.50,151.42 L182.00,150.63 L182.50,149.87 L183.00,149.14 L183.50,148.45 L184.00,147.79 L184.50,147.15 L185.00,146.55 L185.50,145.97 L186.00,145.42 L186.50,144.90 L187.00,144.40 L187.50,143.92 L188.00,143.46 L188.50,143.02 L189.00,142.61 L189.50,142.21 L190.00,141.83 L190.50,141.46 L191.00,141.12 L191.50,140.79 L192.00,140.47 L192.50,140.17 L193.00,139.88 L193.50,139.60 L194.00,139.33 L194.50,139.08 L195.00,138.84 L195.50,138.61 L196.00,138.38 L196.50,138.17 L197.00,137.97 L197.50,137.77 L198.00,137.58 L198.50,137.40 L199.00,137.23 L199.50,137.06 L200.00,136.90 L200.50,136.75 L201.00,136.60 L201.50,136.46 L202.00,136.33 L202.50,136.20 L203.00,136.07 L203.50,135.95 L204.00,135.83 L204.50,135.72 L205.00,135.61 L205.50,135.51 L206.00,135.41 L206.50,135.31 L207.00,135.22 L207.50,135.13 L208.00,135.04 L208.50,134.96 L209.00,134.88 L209.50,134.80 L210.00,134.73 L210.50,134.66 L211.00,134.59 L211.50,134.52 L212.00,134.45 L212.50,134.39 L213.00,134.33 L213.50,134.27 L214.00,134.21 L214.50,134.16 L215.00,134.11 L215.50,134.05 L216.00,134.00 L216.50,133.95 L217.00,133.91 L217.50,133.86 L218.00,133.82 L218.50,133.78 L219.00,133.73 L219.50,133.69 L220.00,133.66 L220.50,133.62 L221.00,133.58 L221.50,133.55 L222.00,133.51 L222.50,133.48 L223.00,133.44 L223.50,133.41 L224.00,133.38 L224.50,133.35 L225.00,133.32 L225.50,133.29 L226.00,133.27 L226.50,133.24 L227.00,133.21 L227.50,133.19 L228.00,133.16 L228.50,133.14 L229.00,133.12 L229.50,133.10 L230.00,133.07 L230.50,133.05 L231.00,133.03 L231.50,133.01 L232.00,132.99 L232.50,132.97 L233.00,132.95 L233.50,132.93 L234.00,132.92 L234.50,132.90 L235.00,132.88" fill="none" stroke="#6e6e6e" stroke-width="1.05" />
<line x1="166.30" y1="71.40" x2="187.00" y2="71.40" stroke="#888" stroke-width="1.0" stroke-dasharray="1.5,1"/>
<line x1="166.30" y1="82.10" x2="187.00" y2="82.10" stroke="#777" stroke-width="1.2" />
<text x="189.40" y="74.40" font-size="9.6" fill="#2a2a2a" font-family='"Liberation Sans", sans-serif' font-weight="normal" text-anchor="start" textLength="64" lengthAdjust="spacingAndGlyphs" stroke="#2a2a2a" stroke-width="0.4">0.1 M Li/1 M BP</text>
<text x="189.40" y="85.20" font-size="9.6" fill="#2a2a2a" font-family='"Liberation Sans", sans-serif' font-weight="normal" text-anchor="start" textLength="68.8" lengthAdjust="spacingAndGlyphs" stroke="#2a2a2a" stroke-width="0.4">0.03 M Li/1 M BP</text>
<text x="61.00" y="77.00" font-size="20" fill="#1fb04f" font-family='"Liberation Sans", sans-serif' font-weight="normal" text-anchor="start" textLength="30.0" lengthAdjust="spacingAndGlyphs" stroke="#1fb04f" stroke-width="0.7">EPR</text>
<rect x="322.7" y="53.3" width="212.40" height="157.10" fill="none" stroke="#7a7a7a" stroke-width="1.1"/>
<line x1="319.50" y1="203.10" x2="322.70" y2="203.10" stroke="#7a7a7a" stroke-width="1" />
<text x="316.80" y="205.80" font-size="7.6" fill="#555" font-family='"Liberation Sans", sans-serif' font-weight="normal" text-anchor="end" >0.0</text>
<line x1="320.70" y1="186.45" x2="322.70" y2="186.45" stroke="#7a7a7a" stroke-width="0.9" />
<line x1="319.50" y1="169.80" x2="322.70" y2="169.80" stroke="#7a7a7a" stroke-width="1" />
<text x="316.80" y="172.50" font-size="7.6" fill="#555" font-family='"Liberation Sans", sans-serif' font-weight="normal" text-anchor="end" >0.5</text>
<line x1="320.70" y1="153.15" x2="322.70" y2="153.15" stroke="#7a7a7a" stroke-width="0.9" />
<line x1="319.50" y1="136.50" x2="322.70" y2="136.50" stroke="#7a7a7a" stroke-width="1" />
<text x="316.80" y="139.20" font-size="7.6" fill="#555" font-family='"Liberation Sans", sans-serif' font-weight="normal" text-anchor="end" >1.0</text>
<line x1="320.70" y1="119.85" x2="322.70" y2="119.85" stroke="#7a7a7a" stroke-width="0.9" />
<line x1="319.50" y1="103.20" x2="322.70" y2="103.20" stroke="#7a7a7a" stroke-width="1" />
<text x="316.80" y="105.90" font-size="7.6" fill="#555" font-family='"Liberation Sans", sans-serif' font-weight="normal" text-anchor="end" >1.5</text>
<line x1="320.70" y1="86.55" x2="322.70" y2="86.55" stroke="#7a7a7a" stroke-width="0.9" />
<line x1="319.50" y1="69.90" x2="322.70" y2="69.90" stroke="#7a7a7a" stroke-width="1" />
<text x="316.80" y="72.60" font-size="7.6" fill="#555" font-family='"Liberation Sans", sans-serif' font-weight="normal" text-anchor="end" >2.0</text>
<line x1="320.70" y1="53.25" x2="322.70" y2="53.25" stroke="#7a7a7a" stroke-width="0.9" />
<line x1="320.70" y1="209.76" x2="322.70" y2="209.76" stroke="#7a7a7a" stroke-width="0" />
<line x1="322.70" y1="210.40" x2="322.70" y2="213.20" stroke="#7a7a7a" stroke-width="1" />
<text x="322.70" y="221.30" font-size="7.6" fill="#555" font-family='"Liberation Sans", sans-serif' font-weight="normal" text-anchor="middle" >300</text>
<line x1="343.94" y1="210.40" x2="343.94" y2="212.40" stroke="#7a7a7a" stroke-width="0.9" />
<line x1="365.18" y1="210.40" x2="365.18" y2="213.20" stroke="#7a7a7a" stroke-width="1" />
<text x="365.18" y="221.30" font-size="7.6" fill="#555" font-family='"Liberation Sans", sans-serif' font-weight="normal" text-anchor="middle" >400</text>
<line x1="386.42" y1="210.40" x2="386.42" y2="212.40" stroke="#7a7a7a" stroke-width="0.9" />
<line x1="407.66" y1="210.40" x2="407.66" y2="213.20" stroke="#7a7a7a" stroke-width="1" />
<text x="407.66" y="221.30" font-size="7.6" fill="#555" font-family='"Liberation Sans", sans-serif' font-weight="normal" text-anchor="middle" >500</text>
<line x1="428.90" y1="210.40" x2="428.90" y2="212.40" stroke="#7a7a7a" stroke-width="0.9" />
<line x1="450.14" y1="210.40" x2="450.14" y2="213.20" stroke="#7a7a7a" stroke-width="1" />
<text x="450.14" y="221.30" font-size="7.6" fill="#555" font-family='"Liberation Sans", sans-serif' font-weight="normal" text-anchor="middle" >600</text>
<line x1="471.38" y1="210.40" x2="471.38" y2="212.40" stroke="#7a7a7a" stroke-width="0.9" />
<line x1="492.62" y1="210.40" x2="492.62" y2="213.20" stroke="#7a7a7a" stroke-width="1" />
<text x="492.62" y="221.30" font-size="7.6" fill="#555" font-family='"Liberation Sans", sans-serif' font-weight="normal" text-anchor="middle" >700</text>
<line x1="513.86" y1="210.40" x2="513.86" y2="212.40" stroke="#7a7a7a" stroke-width="0.9" />
<line x1="535.10" y1="210.40" x2="535.10" y2="213.20" stroke="#7a7a7a" stroke-width="1" />
<text x="535.10" y="221.30" font-size="7.6" fill="#555" font-family='"Liberation Sans", sans-serif' font-weight="normal" text-anchor="middle" >800</text>
<text x="428.80" y="235.00" font-size="8.6" fill="#333" font-family='"Liberation Sans", sans-serif' font-weight="bold" text-anchor="middle" textLength="68" lengthAdjust="spacingAndGlyphs" >Wavelength (nm)</text>
<text x="0" y="0" font-size="8.7" fill="#333" font-family='"Liberation Sans", sans-serif' font-weight="bold" text-anchor="middle" textLength="63" lengthAdjust="spacingAndGlyphs" transform="translate(300.2,134.7) rotate(-90)">Optical Density</text>
<text x="339.30" y="67.00" font-size="9.2" fill="#2a2a2a" font-family='"Liberation Sans", sans-serif' font-weight="normal" text-anchor="middle" textLength="14.2" lengthAdjust="spacingAndGlyphs" stroke="#2a2a2a" stroke-width="0.35">335</text>
<line x1="337.70" y1="70.80" x2="337.70" y2="77.00" stroke="#555" stroke-width="0.7" />
<polygon points="336.30,75.80 339.10,75.80 337.70,79.20" fill="#333" stroke="none" stroke-width="0" />
<path d="M322.80,190.00 C322.86,189.30 323.26,182.80 323.40,183.00 C323.54,183.20 324.02,192.40 324.20,192.00 C324.38,191.60 325.03,177.50 325.20,179.00 C325.37,180.50 325.74,206.30 325.90,207.00 C326.06,207.70 326.63,186.10 326.80,186.00 C326.97,185.90 327.44,205.20 327.60,206.00 C327.76,206.80 328.24,194.60 328.40,194.00 C328.56,193.40 329.04,200.50 329.20,200.00 C329.36,199.50 329.84,191.50 330.00,189.00 C330.16,186.50 330.72,176.40 330.80,175.00" fill="none" stroke="#333" stroke-width="0.9" />
<path d="M330.80,175.00 C330.97,172.67 331.43,165.67 331.80,161.00 C332.17,156.33 332.60,152.50 333.00,147.00 C333.40,141.50 333.80,135.17 334.20,128.00 C334.60,120.83 335.02,110.50 335.40,104.00 C335.78,97.50 336.07,92.57 336.50,89.00 C336.93,85.43 337.50,83.02 338.00,82.60 C338.50,82.18 339.00,85.60 339.50,86.50 C340.00,87.40 340.33,87.08 341.00,88.00 C341.67,88.92 342.67,89.67 343.50,92.00 C344.33,94.33 345.17,98.67 346.00,102.00 C346.83,105.33 347.33,108.25 348.50,112.00 C349.67,115.75 351.20,120.62 353.00,124.50 C354.80,128.38 357.30,131.97 359.30,135.30 C361.30,138.63 362.93,141.63 365.00,144.50 C367.07,147.37 368.53,149.50 371.70,152.50 C374.87,155.50 379.95,159.87 384.00,162.50 C388.05,165.13 392.17,166.55 396.00,168.30 C399.83,170.05 401.67,171.33 407.00,173.00 C412.33,174.67 420.92,176.83 428.00,178.30 C435.08,179.77 442.50,180.88 449.50,181.80 C456.50,182.72 462.92,183.17 470.00,183.80 C477.08,184.43 484.83,184.97 492.00,185.60 C499.17,186.23 505.83,186.98 513.00,187.60 C520.17,188.22 531.33,189.02 535.00,189.30" fill="none" stroke="#6a6a6a" stroke-width="1.1" />
<text x="473.00" y="76.60" font-size="19.5" fill="#1fb04f" font-family='"Liberation Sans", sans-serif' font-weight="normal" text-anchor="start" textLength="54.0" lengthAdjust="spacingAndGlyphs" stroke="#1fb04f" stroke-width="0.5">UV-Vis</text>
<rect x="35.2" y="237.9" width="231.8" height="177.1" fill="#fbfbfb"/>
<path d="M39.20,270.41 L39.70,270.39 L40.20,270.37 L40.70,270.36 L41.20,270.34 L41.70,270.32 L42.20,270.30 L42.70,270.28 L43.20,270.26 L43.70,270.23 L44.20,270.21 L44.70,270.18 L45.20,270.16 L45.70,270.13 L46.20,270.09 L46.70,270.06 L47.20,270.02 L47.70,269.98 L48.20,269.94 L48.70,269.89 L49.20,269.84 L49.70,269.78 L50.20,269.72 L50.70,269.64 L51.20,269.56 L51.70,269.46 L52.20,269.34 L52.70,269.20 L53.20,269.03 L53.70,268.83 L54.20,268.57 L54.70,268.24 L55.20,267.81 L55.70,267.22 L56.20,266.41 L56.70,265.25 L57.20,263.57 L57.70,261.09 L58.20,257.43 L58.70,252.26 L59.20,245.61 L59.70,240.68 L60.20,240.60 L60.70,240.53 L61.20,240.48 L61.70,240.45 L62.20,240.44 L62.70,240.45 L63.20,240.48 L63.70,240.53 L64.20,240.59 L64.70,244.09 L65.20,250.93 L65.70,256.41 L66.20,260.33 L66.70,263.00 L67.20,264.80 L67.70,266.03 L68.20,266.88 L68.70,267.49 L69.20,267.94 L69.70,268.27 L70.20,268.52 L70.70,268.72 L71.20,268.88 L71.70,269.01 L72.20,269.11 L72.70,269.20 L73.20,269.27 L73.70,269.33 L74.20,269.38 L74.70,269.43 L75.20,269.47 L75.70,269.50 L76.20,269.53 L76.70,269.55 L77.20,269.57 L77.70,269.59 L78.20,269.61 L78.70,269.62 L79.20,269.63 L79.70,269.64 L80.20,269.65 L80.70,269.66 L81.20,269.67 L81.70,269.67 L82.20,269.68 L82.70,269.68 L83.20,269.68 L83.70,269.69 L84.20,269.69 L84.70,269.69 L85.20,269.69 L85.70,269.69 L86.20,269.69 L86.70,269.69 L87.20,269.68 L87.70,269.68 L88.20,269.68 L88.70,269.68 L89.20,269.67 L89.70,269.67 L90.20,269.67 L90.70,269.66 L91.20,269.66 L91.70,269.66 L92.20,269.65 L92.70,269.65 L93.20,269.64 L93.70,269.64 L94.20,269.63 L94.70,269.63 L95.20,269.62 L95.70,269.62 L96.20,269.61 L96.70,269.61 L97.20,269.60 L97.70,269.60 L98.20,269.59 L98.70,269.58 L99.20,269.58 L99.70,269.57 L100.20,269.57 L100.70,269.56 L101.20,269.55 L101.70,269.55 L102.20,269.54 L102.70,269.54 L103.20,269.53 L103.70,269.52 L104.20,269.52 L104.70,269.51 L105.20,269.50 L105.70,269.50 L106.20,269.49 L106.70,269.48 L107.20,269.48 L107.70,269.47 L108.20,269.46 L108.70,269.45 L109.20,269.45 L109.70,269.44 L110.20,269.43 L110.70,269.43 L111.20,269.42 L111.70,269.41 L112.20,269.41 L112.70,269.40 L113.20,269.39 L113.70,269.38 L114.20,269.38 L114.70,269.37 L115.20,269.36 L115.70,269.36 L116.20,269.35 L116.70,269.34 L117.20,269.33 L117.70,269.33 L118.20,269.32 L118.70,269.31 L119.20,269.30 L119.70,269.30 L120.20,269.29 L120.70,269.28 L121.20,269.27 L121.70,269.27 L122.20,269.26 L122.70,269.25 L123.20,269.25 L123.70,269.24 L124.20,269.23 L124.70,269.22 L125.20,269.22 L125.70,269.21 L126.20,269.20 L126.70,269.19 L127.20,269.19 L127.70,269.18 L128.20,269.17 L128.70,269.16 L129.20,269.15 L129.70,269.15 L130.20,269.14 L130.70,269.13 L131.20,269.12 L131.70,269.12 L132.20,269.11 L132.70,269.10 L133.20,269.09 L133.70,269.09 L134.20,269.08 L134.70,269.07 L135.20,269.06 L135.70,269.06 L136.20,269.05 L136.70,269.04 L137.20,269.03 L137.70,269.03 L138.20,269.02 L138.70,269.01 L139.20,269.00 L139.70,268.99 L140.20,268.99 L140.70,268.98 L141.20,268.97 L141.70,268.96 L142.20,268.96 L142.70,268.95 L143.20,268.94 L143.70,268.93 L144.20,268.93 L144.70,268.92 L145.20,268.91 L145.70,268.90 L146.20,268.89 L146.70,268.89 L147.20,268.88 L147.70,268.87 L148.20,268.86 L148.70,268.86 L149.20,268.85 L149.70,268.84 L150.20,268.83 L150.70,268.82 L151.20,268.82 L151.70,268.81 L152.20,268.80 L152.70,268.79 L153.20,268.79 L153.70,268.78 L154.20,268.77 L154.70,268.76 L155.20,268.75 L155.70,268.75 L156.20,268.74 L156.70,268.73 L157.20,268.72 L157.70,268.72 L158.20,268.71 L158.70,268.70 L159.20,268.69 L159.70,268.68 L160.20,268.68 L160.70,268.67 L161.20,268.66 L161.70,268.65 L162.20,268.65 L162.70,268.64 L163.20,268.63 L163.70,268.62 L164.20,268.61 L164.70,268.61 L165.20,268.60 L165.70,268.59 L166.20,268.58 L166.70,268.58 L167.20,268.57 L167.70,268.56 L168.20,268.55 L168.70,268.54 L169.20,268.54 L169.70,268.53 L170.20,268.52 L170.70,268.51 L171.20,268.50 L171.70,268.50 L172.20,268.49 L172.70,268.48 L173.20,268.47 L173.70,268.47 L174.20,268.46 L174.70,268.45 L175.20,268.44 L175.70,268.43 L176.20,268.43 L176.70,268.42 L177.20,268.41 L177.70,268.40 L178.20,268.40 L178.70,268.39 L179.20,268.38 L179.70,268.37 L180.20,268.36 L180.70,268.36 L181.20,268.35 L181.70,268.34 L182.20,268.33 L182.70,268.32 L183.20,268.32 L183.70,268.31 L184.20,268.30 L184.70,268.29 L185.20,268.29 L185.70,268.28 L186.20,268.27 L186.70,268.26 L187.20,268.25 L187.70,268.25 L188.20,268.24 L188.70,268.23 L189.20,268.22 L189.70,268.21 L190.20,268.21 L190.70,268.20 L191.20,268.19 L191.70,268.18 L192.20,268.18 L192.70,268.17 L193.20,268.16 L193.70,268.15 L194.20,268.14 L194.70,268.14 L195.20,268.13 L195.70,268.12 L196.20,268.11 L196.70,268.10 L197.20,268.10 L197.70,268.09 L198.20,268.08 L198.70,268.07 L199.20,268.07 L199.70,268.06 L200.20,268.05 L200.70,268.04 L201.20,268.03 L201.70,268.03 L202.20,268.02 L202.70,268.01 L203.20,268.00 L203.70,267.99 L204.20,267.99 L204.70,267.98 L205.20,267.97 L205.70,267.96 L206.20,267.96 L206.70,267.95 L207.20,267.94 L207.70,267.93 L208.20,267.92 L208.70,267.92 L209.20,267.91 L209.70,267.90 L210.20,267.89 L210.70,267.88 L211.20,267.88 L211.70,267.87 L212.20,267.86 L212.70,267.85 L213.20,267.85 L213.70,267.84 L214.20,267.83 L214.70,267.82 L215.20,267.81 L215.70,267.81 L216.20,267.80 L216.70,267.79 L217.20,267.78 L217.70,267.77 L218.20,267.77 L218.70,267.76 L219.20,267.75 L219.70,267.74 L220.20,267.73 L220.70,267.73 L221.20,267.72 L221.70,267.71 L222.20,267.70 L222.70,267.70 L223.20,267.69 L223.70,267.68 L224.20,267.67 L224.70,267.66 L225.20,267.66 L225.70,267.65 L226.20,267.64 L226.70,267.63 L227.20,267.62 L227.70,267.62 L228.20,267.61 L228.70,267.60 L229.20,267.59 L229.70,267.59 L230.20,267.58 L230.70,267.57 L231.20,267.56 L231.70,267.55 L232.20,267.55 L232.70,267.54 L233.20,267.53 L233.70,267.52 L234.20,267.51 L234.70,267.51 L235.20,267.50 L235.70,267.49 L236.20,267.48 L236.70,267.47 L237.20,267.47 L237.70,267.46 L238.20,267.45 L238.70,267.44 L239.20,267.44 L239.70,267.43 L240.20,267.42 L240.70,267.41 L241.20,267.40 L241.70,267.40 L242.20,267.39 L242.70,267.38 L243.20,267.37 L243.70,267.36 L244.20,267.36 L244.70,267.35 L245.20,267.34 L245.70,267.33 L246.20,267.33 L246.70,267.32 L247.20,267.31 L247.70,267.30 L248.20,267.29 L248.70,267.29 L249.20,267.28 L249.70,267.27 L250.20,267.26 L250.70,267.25 L251.20,267.25 L251.70,267.24 L252.20,267.23 L252.70,267.22 L253.20,267.21 L253.70,267.21 L254.20,267.20" fill="none" stroke="#6a6a6a" stroke-width="1.0" />
<path d="M40.00,293.59 L40.50,293.59 L41.00,293.58 L41.50,293.58 L42.00,293.57 L42.50,293.57 L43.00,293.56 L43.50,293.55 L44.00,293.55 L44.50,293.54 L45.00,293.54 L45.50,293.53 L46.00,293.53 L46.50,293.52 L47.00,293.52 L47.50,293.51 L48.00,293.50 L48.50,293.50 L49.00,293.49 L49.50,293.49 L50.00,293.48 L50.50,293.48 L51.00,293.47 L51.50,293.47 L52.00,293.46 L52.50,293.45 L53.00,293.45 L53.50,293.44 L54.00,293.44 L54.50,293.43 L55.00,293.43 L55.50,293.42 L56.00,293.42 L56.50,293.41 L57.00,293.40 L57.50,293.40 L58.00,293.39 L58.50,293.39 L59.00,293.38 L59.50,293.38 L60.00,293.37 L60.50,293.36 L61.00,293.36 L61.50,293.35 L62.00,293.35 L62.50,293.34 L63.00,293.34 L63.50,293.33 L64.00,293.33 L64.50,293.32 L65.00,293.31 L65.50,293.31 L66.00,293.30 L66.50,293.30 L67.00,293.29 L67.50,293.29 L68.00,293.28 L68.50,293.27 L69.00,293.27 L69.50,293.26 L70.00,293.26 L70.50,293.25 L71.00,293.25 L71.50,293.24 L72.00,293.23 L72.50,293.23 L73.00,293.22 L73.50,293.22 L74.00,293.21 L74.50,293.21 L75.00,293.20 L75.50,293.19 L76.00,293.19 L76.50,293.18 L77.00,293.18 L77.50,293.17 L78.00,293.17 L78.50,293.16 L79.00,293.15 L79.50,293.15 L80.00,293.14 L80.50,293.14 L81.00,293.13 L81.50,293.13 L82.00,293.12 L82.50,293.11 L83.00,293.11 L83.50,293.10 L84.00,293.10 L84.50,293.09 L85.00,293.09 L85.50,293.08 L86.00,293.07 L86.50,293.07 L87.00,293.06 L87.50,293.06 L88.00,293.05 L88.50,293.04 L89.00,293.04 L89.50,293.03 L90.00,293.03 L90.50,293.02 L91.00,293.01 L91.50,293.01 L92.00,293.00 L92.50,293.00 L93.00,292.99 L93.50,292.98 L94.00,292.98 L94.50,292.97 L95.00,292.97 L95.50,292.96 L96.00,292.95 L96.50,292.95 L97.00,292.94 L97.50,292.94 L98.00,292.93 L98.50,292.92 L99.00,292.92 L99.50,292.91 L100.00,292.90 L100.50,292.90 L101.00,292.89 L101.50,292.89 L102.00,292.88 L102.50,292.87 L103.00,292.87 L103.50,292.86 L104.00,292.85 L104.50,292.85 L105.00,292.84 L105.50,292.83 L106.00,292.83 L106.50,292.82 L107.00,292.81 L107.50,292.81 L108.00,292.80 L108.50,292.79 L109.00,292.79 L109.50,292.78 L110.00,292.77 L110.50,292.76 L111.00,292.76 L111.50,292.75 L112.00,292.74 L112.50,292.73 L113.00,292.73 L113.50,292.72 L114.00,292.71 L114.50,292.70 L115.00,292.69 L115.50,292.69 L116.00,292.68 L116.50,292.67 L117.00,292.66 L117.50,292.65 L118.00,292.64 L118.50,292.63 L119.00,292.62 L119.50,292.61 L120.00,292.60 L120.50,292.59 L121.00,292.58 L121.50,292.57 L122.00,292.56 L122.50,292.55 L123.00,292.53 L123.50,292.52 L124.00,292.51 L124.50,292.49 L125.00,292.48 L125.50,292.46 L126.00,292.45 L126.50,292.43 L127.00,292.41 L127.50,292.39 L128.00,292.37 L128.50,292.35 L129.00,292.33 L129.50,292.30 L130.00,292.27 L130.50,292.24 L131.00,292.21 L131.50,292.17 L132.00,292.13 L132.50,292.08 L133.00,292.02 L133.50,291.96 L134.00,291.89 L134.50,291.80 L135.00,291.70 L135.50,291.57 L136.00,291.41 L136.50,291.21 L137.00,290.95 L137.50,290.59 L138.00,290.10 L138.50,289.41 L139.00,288.38 L139.50,286.86 L140.00,284.58 L140.50,281.26 L141.00,276.84 L141.50,272.62 L142.00,272.56 L142.50,272.52 L143.00,272.49 L143.50,272.46 L144.00,272.46 L144.50,272.46 L145.00,272.49 L145.50,272.52 L146.00,272.56 L146.50,275.79 L147.00,280.39 L147.50,283.93 L148.00,286.38 L148.50,288.02 L149.00,289.12 L149.50,289.86 L150.00,290.37 L150.50,290.74 L151.00,291.01 L151.50,291.21 L152.00,291.36 L152.50,291.48 L153.00,291.58 L153.50,291.66 L154.00,291.72 L154.50,291.78 L155.00,291.82 L155.50,291.86 L156.00,291.89 L156.50,291.92 L157.00,291.94 L157.50,291.96 L158.00,291.98 L158.50,292.00 L159.00,292.01 L159.50,292.02 L160.00,292.03 L160.50,292.04 L161.00,292.05 L161.50,292.05 L162.00,292.06 L162.50,292.06 L163.00,292.07 L163.50,292.07 L164.00,292.07 L164.50,292.08 L165.00,292.08 L165.50,292.08 L166.00,292.08 L166.50,292.08 L167.00,292.08 L167.50,292.08 L168.00,292.08 L168.50,292.08 L169.00,292.08 L169.50,292.07 L170.00,292.07 L170.50,292.07 L171.00,292.07 L171.50,292.07 L172.00,292.06 L172.50,292.06 L173.00,292.06 L173.50,292.06 L174.00,292.05 L174.50,292.05 L175.00,292.05 L175.50,292.04 L176.00,292.04 L176.50,292.04 L177.00,292.03 L177.50,292.03 L178.00,292.02 L178.50,292.02 L179.00,292.02 L179.50,292.01 L180.00,292.01 L180.50,292.00 L181.00,292.00 L181.50,292.00 L182.00,291.99 L182.50,291.99 L183.00,291.98 L183.50,291.98 L184.00,291.97 L184.50,291.97 L185.00,291.97 L185.50,291.96 L186.00,291.96 L186.50,291.95 L187.00,291.95 L187.50,291.94 L188.00,291.94 L188.50,291.93 L189.00,291.93 L189.50,291.92 L190.00,291.92 L190.50,291.91 L191.00,291.91 L191.50,291.90 L192.00,291.90 L192.50,291.89 L193.00,291.89 L193.50,291.88 L194.00,291.88 L194.50,291.87 L195.00,291.87 L195.50,291.86 L196.00,291.86 L196.50,291.85 L197.00,291.85 L197.50,291.84 L198.00,291.84 L198.50,291.83 L199.00,291.83 L199.50,291.82 L200.00,291.82 L200.50,291.81 L201.00,291.81 L201.50,291.80 L202.00,291.80 L202.50,291.79 L203.00,291.79 L203.50,291.78 L204.00,291.78 L204.50,291.77 L205.00,291.77 L205.50,291.76 L206.00,291.76 L206.50,291.75 L207.00,291.75 L207.50,291.74 L208.00,291.74 L208.50,291.73 L209.00,291.73 L209.50,291.72 L210.00,291.71 L210.50,291.71 L211.00,291.70 L211.50,291.70 L212.00,291.69 L212.50,291.69 L213.00,291.68 L213.50,291.68 L214.00,291.67 L214.50,291.67 L215.00,291.66 L215.50,291.66 L216.00,291.65 L216.50,291.65 L217.00,291.64 L217.50,291.64 L218.00,291.63 L218.50,291.62 L219.00,291.62 L219.50,291.61 L220.00,291.61 L220.50,291.60 L221.00,291.60 L221.50,291.59 L222.00,291.59 L222.50,291.58 L223.00,291.58 L223.50,291.57 L224.00,291.57 L224.50,291.56 L225.00,291.55 L225.50,291.55 L226.00,291.54 L226.50,291.54 L227.00,291.53 L227.50,291.53 L228.00,291.52 L228.50,291.52 L229.00,291.51 L229.50,291.51 L230.00,291.50 L230.50,291.50 L231.00,291.49 L231.50,291.48 L232.00,291.48 L232.50,291.47 L233.00,291.47 L233.50,291.46 L234.00,291.46 L234.50,291.45 L235.00,291.45 L235.50,291.44 L236.00,291.44 L236.50,291.43 L237.00,291.43 L237.50,291.42 L238.00,291.41 L238.50,291.41 L239.00,291.40 L239.50,291.40 L240.00,291.39 L240.50,291.39 L241.00,291.38 L241.50,291.38 L242.00,291.37 L242.50,291.37 L243.00,291.36 L243.50,291.35 L244.00,291.35 L244.50,291.34 L245.00,291.34 L245.50,291.33 L246.00,291.33 L246.50,291.32 L247.00,291.32 L247.50,291.31 L248.00,291.31 L248.50,291.30 L249.00,291.30 L249.50,291.29 L250.00,291.28 L250.50,291.28 L251.00,291.27 L251.50,291.27 L252.00,291.26 L252.50,291.26 L253.00,291.25 L253.50,291.25 L254.00,291.24 L254.50,291.24 L255.00,291.23 L255.50,291.22 L256.00,291.22 L256.50,291.21 L257.00,291.21 L257.50,291.20 L258.00,291.20" fill="none" stroke="#6a6a6a" stroke-width="1.0" />
<path d="M45.40,325.95 L45.90,325.80 L46.40,326.13 L46.90,325.70 L47.40,325.99 L47.90,325.85 L48.40,325.61 L48.90,325.89 L49.40,325.54 L49.90,325.79 L50.40,325.50 L50.90,325.49 L51.40,325.69 L51.90,325.95 L52.40,325.42 L52.90,325.46 L53.40,325.71 L53.90,325.91 L54.40,325.62 L54.90,325.46 L55.40,325.83 L55.90,325.14 L56.40,325.68 L56.90,325.24 L57.40,325.11 L57.90,325.05 L58.40,325.15 L58.90,325.47 L59.40,324.99 L59.90,325.23 L60.40,325.23 L60.90,325.00 L61.40,325.09 L61.90,324.71 L62.40,324.66 L62.90,324.72 L63.40,325.01 L63.90,324.79 L64.40,324.67 L64.90,324.82 L65.40,324.68 L65.90,324.53 L66.40,324.83 L66.90,324.71 L67.40,324.35 L67.90,324.53 L68.40,324.45 L68.90,324.65 L69.40,324.49 L69.90,324.13 L70.40,324.57 L70.90,323.91 L71.40,324.07 L71.90,324.26 L72.40,323.78 L72.90,323.96 L73.40,323.59 L73.90,323.98 L74.40,323.99 L74.90,323.80 L75.40,323.95 L75.90,323.50 L76.40,323.71 L76.90,323.58 L77.40,323.51 L77.90,323.37 L78.40,323.57 L78.90,323.59 L79.40,323.20 L79.90,323.27 L80.40,322.78 L80.90,323.17 L81.40,323.07 L81.90,323.24 L82.40,323.06 L82.90,322.62 L83.40,322.62 L83.90,322.75 L84.40,322.24 L84.90,322.48 L85.40,322.20 L85.90,322.10 L86.40,321.99 L86.90,322.42 L87.40,321.90 L87.90,321.91 L88.40,321.94 L88.90,322.21 L89.40,321.59 L89.90,321.77 L90.40,321.77 L90.90,321.94 L91.40,321.82 L91.90,321.78 L92.40,321.30 L92.90,321.32 L93.40,321.21 L93.90,321.50 L94.40,321.48 L94.90,320.85 L95.40,320.79 L95.90,320.76 L96.40,320.69 L96.90,320.79 L97.40,320.79 L97.90,320.49 L98.40,320.24 L98.90,320.46 L99.40,320.35 L99.90,320.42 L100.40,320.62 L100.90,320.37 L101.40,320.17 L101.90,320.18 L102.40,320.15 L102.90,319.65 L103.40,320.17 L103.90,320.02 L104.40,320.02 L104.90,319.90 L105.40,319.56 L105.90,319.50 L106.40,319.23 L106.90,319.54 L107.40,319.08 L107.90,319.03 L108.40,319.07 L108.90,318.99 L109.40,319.06 L109.90,318.81 L110.40,318.72 L110.90,318.78 L111.40,318.70 L111.90,318.84 L112.40,318.57 L112.90,319.12 L113.40,318.91 L113.90,318.56 L114.40,318.60 L114.90,318.66 L115.40,318.68 L115.90,318.54 L116.40,319.09 L116.90,319.25 L117.40,318.94 L117.90,319.01 L118.40,318.81 L118.90,318.90 L119.40,319.14 L119.90,319.17 L120.40,319.66 L120.90,319.28 L121.40,319.28 L121.90,320.02 L122.40,319.83 L122.90,319.66 L123.40,320.04 L123.90,319.78 L124.40,320.24 L124.90,320.66 L125.40,320.68 L125.90,320.67 L126.40,320.48 L126.90,320.66 L127.40,320.63 L127.90,321.16 L128.40,321.10 L128.90,321.38 L129.40,321.17 L129.90,321.20 L130.40,321.72 L130.90,321.94 L131.40,321.96 L131.90,322.03 L132.40,322.14 L132.90,322.19 L133.40,321.93 L133.90,322.23 L134.40,322.21 L134.90,322.08 L135.40,322.18 L135.90,322.45 L136.40,322.52 L136.90,322.92 L137.40,323.19 L137.90,322.92 L138.40,323.35 L138.90,323.47 L139.40,323.53 L139.90,323.20 L140.40,323.18 L140.90,323.26 L141.40,323.32 L141.90,323.40 L142.40,323.77 L142.90,324.03 L143.40,324.06 L143.90,323.87 L144.40,324.06 L144.90,324.23 L145.40,323.79 L145.90,324.25 L146.40,324.48 L146.90,324.45 L147.40,324.48 L147.90,324.35 L148.40,324.19 L148.90,324.66 L149.40,324.39 L149.90,324.77 L150.40,324.93 L150.90,324.57 L151.40,324.61 L151.90,325.03 L152.40,324.91 L152.90,324.56 L153.40,324.56 L153.90,324.60 L154.40,325.16 L154.90,325.11 L155.40,324.67 L155.90,325.17 L156.40,325.29 L156.90,325.08 L157.40,324.88 L157.90,325.03 L158.40,324.74 L158.90,324.66 L159.40,325.32 L159.90,325.09 L160.40,324.99 L160.90,325.26 L161.40,324.88 L161.90,325.15 L162.40,325.08 L162.90,324.59 L163.40,324.55 L163.90,324.49 L164.40,324.35 L164.90,324.45 L165.40,324.04 L165.90,323.92 L166.40,323.42 L166.90,323.55 L167.40,322.59 L167.90,321.85 L168.40,320.74 L168.90,319.17 L169.40,316.10 L169.90,312.30 L170.40,306.03 L170.90,298.44 L171.40,295.12 L171.90,294.71 L172.40,294.96 L172.90,294.76 L173.40,294.63 L173.90,295.21 L174.40,294.81 L174.90,295.08 L175.40,295.33 L175.90,298.55 L176.40,306.01 L176.90,312.15 L177.40,316.34 L177.90,319.25 L178.40,320.59 L178.90,322.12 L179.40,322.73 L179.90,323.35 L180.40,324.12 L180.90,324.27 L181.40,324.55 L181.90,324.89 L182.40,325.16 L182.90,324.96 L183.40,325.19 L183.90,325.21 L184.40,325.29 L184.90,325.49 L185.40,325.38 L185.90,325.49 L186.40,325.50 L186.90,325.86 L187.40,325.73 L187.90,325.89 L188.40,325.96 L188.90,325.51 L189.40,325.75 L189.90,326.04 L190.40,325.99 L190.90,325.51 L191.40,325.52 L191.90,325.76 L192.40,325.51 L192.90,325.64 L193.40,325.54 L193.90,325.97 L194.40,326.06 L194.90,326.15 L195.40,325.63 L195.90,326.03 L196.40,326.00 L196.90,325.65 L197.40,326.17 L197.90,326.24 L198.40,325.72 L198.90,326.23 L199.40,325.85 L199.90,325.92 L200.40,326.27 L200.90,326.16 L201.40,325.70 L201.90,325.89 L202.40,325.95 L202.90,325.83 L203.40,325.73 L203.90,325.82 L204.40,326.10 L204.90,325.61 L205.40,325.99 L205.90,325.91 L206.40,325.61 L206.90,325.83 L207.40,326.04 L207.90,325.96 L208.40,325.65 L208.90,326.29 L209.40,326.15 L209.90,326.28 L210.40,325.67 L210.90,325.78 L211.40,325.63 L211.90,326.14 L212.40,325.79 L212.90,325.69 L213.40,325.89 L213.90,326.23 L214.40,326.17 L214.90,325.77 L215.40,325.69 L215.90,326.23 L216.40,325.99 L216.90,326.08 L217.40,325.65 L217.90,325.62 L218.40,326.06 L218.90,325.88 L219.40,325.63 L219.90,326.23 L220.40,326.02 L220.90,326.13 L221.40,325.63 L221.90,326.17 L222.40,325.61 L222.90,326.17 L223.40,325.88 L223.90,325.80 L224.40,325.95 L224.90,326.20 L225.40,325.74 L225.90,325.64 L226.40,325.92 L226.90,325.71 L227.40,325.62 L227.90,325.66 L228.40,325.58 L228.90,325.68 L229.40,325.75 L229.90,325.75 L230.40,326.06 L230.90,325.73 L231.40,325.88 L231.90,325.65 L232.40,325.77 L232.90,325.53 L233.40,325.69 L233.90,325.53 L234.40,326.03 L234.90,325.90 L235.40,325.64 L235.90,325.84 L236.40,326.16 L236.90,325.57 L237.40,326.07 L237.90,325.80 L238.40,325.84 L238.90,326.07 L239.40,325.76 L239.90,325.84 L240.40,325.96 L240.90,326.17 L241.40,325.72 L241.90,326.06 L242.40,325.97 L242.90,325.91 L243.40,325.75 L243.90,325.71 L244.40,325.50 L244.90,325.55 L245.40,325.51 L245.90,325.97 L246.40,325.63 L246.90,325.56 L247.40,325.50 L247.90,326.03 L248.40,326.05 L248.90,325.91 L249.40,325.63 L249.90,325.60" fill="none" stroke="#6a6a6a" stroke-width="0.9" />
<path d="M43.00,366.20 L43.50,366.30 L44.00,366.07 L44.50,366.26 L45.00,366.11 L45.50,366.58 L46.00,366.57 L46.50,366.26 L47.00,366.03 L47.50,366.52 L48.00,366.04 L48.50,366.05 L49.00,365.78 L49.50,366.03 L50.00,366.07 L50.50,366.07 L51.00,365.84 L51.50,366.03 L52.00,365.66 L52.50,365.82 L53.00,365.67 L53.50,365.87 L54.00,365.59 L54.50,365.56 L55.00,365.73 L55.50,365.65 L56.00,365.87 L56.50,365.81 L57.00,365.94 L57.50,365.84 L58.00,365.86 L58.50,365.94 L59.00,365.57 L59.50,365.50 L60.00,365.93 L60.50,365.31 L61.00,365.68 L61.50,365.60 L62.00,365.14 L62.50,365.67 L63.00,365.67 L63.50,365.45 L64.00,365.49 L64.50,365.51 L65.00,365.00 L65.50,365.24 L66.00,365.19 L66.50,365.38 L67.00,365.32 L67.50,365.30 L68.00,365.09 L68.50,365.26 L69.00,365.07 L69.50,365.04 L70.00,364.67 L70.50,364.49 L71.00,364.52 L71.50,364.63 L72.00,364.41 L72.50,364.87 L73.00,364.63 L73.50,364.63 L74.00,364.58 L74.50,364.57 L75.00,364.39 L75.50,364.00 L76.00,364.50 L76.50,364.41 L77.00,364.19 L77.50,364.16 L78.00,364.19 L78.50,363.72 L79.00,364.13 L79.50,363.74 L80.00,363.55 L80.50,363.63 L81.00,363.89 L81.50,363.47 L82.00,363.78 L82.50,363.88 L83.00,363.48 L83.50,363.34 L84.00,363.35 L84.50,363.43 L85.00,363.42 L85.50,363.25 L86.00,363.20 L86.50,362.73 L87.00,362.72 L87.50,362.72 L88.00,362.99 L88.50,362.62 L89.00,362.73 L89.50,362.27 L90.00,362.23 L90.50,362.30 L91.00,362.51 L91.50,362.45 L92.00,362.36 L92.50,362.02 L93.00,362.10 L93.50,361.99 L94.00,361.91 L94.50,361.59 L95.00,362.05 L95.50,361.49 L96.00,361.96 L96.50,361.85 L97.00,361.12 L97.50,361.35 L98.00,361.52 L98.50,361.55 L99.00,361.10 L99.50,360.89 L100.00,360.77 L100.50,361.20 L101.00,360.61 L101.50,360.79 L102.00,360.40 L102.50,360.58 L103.00,360.80 L103.50,360.14 L104.00,360.54 L104.50,360.24 L105.00,360.43 L105.50,360.22 L106.00,359.80 L106.50,360.19 L107.00,359.82 L107.50,359.42 L108.00,359.33 L108.50,359.59 L109.00,359.48 L109.50,359.30 L110.00,359.12 L110.50,359.18 L111.00,359.09 L111.50,359.39 L112.00,358.73 L112.50,359.18 L113.00,359.18 L113.50,358.61 L114.00,359.11 L114.50,358.89 L115.00,358.97 L115.50,358.48 L116.00,358.48 L116.50,358.44 L117.00,358.82 L117.50,358.48 L118.00,358.28 L118.50,358.29 L119.00,358.15 L119.50,357.96 L120.00,357.98 L120.50,358.51 L121.00,358.16 L121.50,358.67 L122.00,358.25 L122.50,358.33 L123.00,358.57 L123.50,358.43 L124.00,358.64 L124.50,359.14 L125.00,359.19 L125.50,359.23 L126.00,359.21 L126.50,359.51 L127.00,359.63 L127.50,359.47 L128.00,359.69 L128.50,359.34 L129.00,359.92 L129.50,359.84 L130.00,360.16 L130.50,360.20 L131.00,360.06 L131.50,360.00 L132.00,360.73 L132.50,360.28 L133.00,360.63 L133.50,360.65 L134.00,360.72 L134.50,361.13 L135.00,361.40 L135.50,361.00 L136.00,361.38 L136.50,361.22 L137.00,361.49 L137.50,361.47 L138.00,361.39 L138.50,361.47 L139.00,361.58 L139.50,362.14 L140.00,361.92 L140.50,361.78 L141.00,362.31 L141.50,362.42 L142.00,362.07 L142.50,361.88 L143.00,361.93 L143.50,361.85 L144.00,362.01 L144.50,361.79 L145.00,361.82 L145.50,361.71 L146.00,361.77 L146.50,361.75 L147.00,361.32 L147.50,360.60 L148.00,359.90 L148.50,358.94 L149.00,357.27 L149.50,354.85 L150.00,350.97 L150.50,345.58 L151.00,338.35 L151.50,328.67 L152.00,328.82 L152.50,328.90 L153.00,329.07 L153.50,328.64 L154.00,328.73 L154.50,328.79 L155.00,328.99 L155.50,329.14 L156.00,329.63 L156.50,337.07 L157.00,345.30 L157.50,350.79 L158.00,354.92 L158.50,358.11 L159.00,360.05 L159.50,360.99 L160.00,361.93 L160.50,362.15 L161.00,362.90 L161.50,363.64 L162.00,363.86 L162.50,364.12 L163.00,364.39 L163.50,364.05 L164.00,364.10 L164.50,364.25 L165.00,364.62 L165.50,364.83 L166.00,365.09 L166.50,365.02 L167.00,365.04 L167.50,365.18 L168.00,365.03 L168.50,365.15 L169.00,364.84 L169.50,365.40 L170.00,365.06 L170.50,365.58 L171.00,365.43 L171.50,365.22 L172.00,365.13 L172.50,365.25 L173.00,365.54 L173.50,365.61 L174.00,365.23 L174.50,365.22 L175.00,365.56 L175.50,365.62 L176.00,365.50 L176.50,365.41 L177.00,365.69 L177.50,365.29 L178.00,365.51 L178.50,365.63 L179.00,365.99 L179.50,365.79 L180.00,365.97 L180.50,365.69 L181.00,365.53 L181.50,365.55 L182.00,366.06 L182.50,365.89 L183.00,365.62 L183.50,365.43 L184.00,365.77 L184.50,365.90 L185.00,365.72 L185.50,365.62 L186.00,365.91 L186.50,366.09 L187.00,365.61 L187.50,365.48 L188.00,365.69 L188.50,365.76 L189.00,365.94 L189.50,365.61 L190.00,366.03 L190.50,365.99 L191.00,365.83 L191.50,365.62 L192.00,366.16 L192.50,365.70 L193.00,366.06 L193.50,365.64 L194.00,365.64 L194.50,366.02 L195.00,365.69 L195.50,366.15 L196.00,365.83 L196.50,365.62 L197.00,365.64 L197.50,365.78 L198.00,365.95 L198.50,366.15 L199.00,365.59 L199.50,365.76 L200.00,365.63 L200.50,366.17 L201.00,365.58 L201.50,365.52 L202.00,365.52 L202.50,365.76 L203.00,366.11 L203.50,366.10 L204.00,365.99 L204.50,366.18 L205.00,366.13 L205.50,365.70 L206.00,365.60 L206.50,366.13 L207.00,365.99 L207.50,365.49 L208.00,365.93 L208.50,365.73 L209.00,365.72 L209.50,365.69 L210.00,365.58 L210.50,365.46 L211.00,365.65 L211.50,365.70 L212.00,366.12 L212.50,365.54 L213.00,366.12 L213.50,365.59 L214.00,365.69 L214.50,366.02 L215.00,366.02 L215.50,365.74 L216.00,365.47 L216.50,365.76 L217.00,365.69 L217.50,366.07 L218.00,365.56 L218.50,365.68 L219.00,366.05 L219.50,365.44 L220.00,365.71 L220.50,365.98 L221.00,365.95 L221.50,365.44 L222.00,365.43 L222.50,365.45 L223.00,366.05 L223.50,365.58 L224.00,365.92 L224.50,366.03 L225.00,365.63 L225.50,365.58 L226.00,366.06 L226.50,365.82 L227.00,365.57 L227.50,365.88 L228.00,365.60 L228.50,365.57 L229.00,365.38 L229.50,365.90 L230.00,366.01 L230.50,365.81 L231.00,366.02 L231.50,365.38 L232.00,365.52 L232.50,365.69 L233.00,366.02 L233.50,366.02 L234.00,365.62 L234.50,365.52 L235.00,365.64 L235.50,365.69 L236.00,365.99 L236.50,365.46 L237.00,365.89 L237.50,365.85 L238.00,365.90 L238.50,365.87 L239.00,365.75 L239.50,365.55 L240.00,365.54 L240.50,365.57 L241.00,365.86 L241.50,365.36 L242.00,365.44 L242.50,365.83 L243.00,365.47 L243.50,365.34 L244.00,365.32 L244.50,365.68 L245.00,365.52 L245.50,365.97 L246.00,365.90 L246.50,365.97 L247.00,365.47 L247.50,365.34 L248.00,365.34 L248.50,365.62 L249.00,365.77 L249.50,365.58 L250.00,365.43 L250.50,365.55 L251.00,365.69 L251.50,365.73 L252.00,365.78 L252.50,365.84 L253.00,365.71 L253.50,365.33 L254.00,365.83 L254.50,365.45" fill="none" stroke="#6a6a6a" stroke-width="0.9" />
<path d="M37.40,387.15 L37.90,386.99 L38.40,387.28 L38.90,386.84 L39.40,386.87 L39.90,386.86 L40.40,386.78 L40.90,387.36 L41.40,387.11 L41.90,386.90 L42.40,386.95 L42.90,387.42 L43.40,387.02 L43.90,386.79 L44.40,387.25 L44.90,387.11 L45.40,387.38 L45.90,386.66 L46.40,386.94 L46.90,387.21 L47.40,387.22 L47.90,387.26 L48.40,386.55 L48.90,386.74 L49.40,386.59 L49.90,386.64 L50.40,387.25 L50.90,386.93 L51.40,387.19 L51.90,386.73 L52.40,387.11 L52.90,386.76 L53.40,386.59 L53.90,386.99 L54.40,387.11 L54.90,386.42 L55.40,386.79 L55.90,386.79 L56.40,386.45 L56.90,386.55 L57.40,386.35 L57.90,386.38 L58.40,386.40 L58.90,386.65 L59.40,386.67 L59.90,386.29 L60.40,386.11 L60.90,386.33 L61.40,386.59 L61.90,386.16 L62.40,386.24 L62.90,386.12 L63.40,386.56 L63.90,386.33 L64.40,385.91 L64.90,385.91 L65.40,386.11 L65.90,386.20 L66.40,386.23 L66.90,385.76 L67.40,385.78 L67.90,386.16 L68.40,385.89 L68.90,385.75 L69.40,385.72 L69.90,386.19 L70.40,385.63 L70.90,385.79 L71.40,385.57 L71.90,385.57 L72.40,385.87 L72.90,385.92 L73.40,385.36 L73.90,385.17 L74.40,385.53 L74.90,385.05 L75.40,384.83 L75.90,385.48 L76.40,385.04 L76.90,385.29 L77.40,384.88 L77.90,385.19 L78.40,384.78 L78.90,384.47 L79.40,384.27 L79.90,384.62 L80.40,384.61 L80.90,384.74 L81.40,384.00 L81.90,384.33 L82.40,384.04 L82.90,384.06 L83.40,383.67 L83.90,383.69 L84.40,383.78 L84.90,384.00 L85.40,383.24 L85.90,383.43 L86.40,383.58 L86.90,383.59 L87.40,382.86 L87.90,382.69 L88.40,383.22 L88.90,383.12 L89.40,382.60 L89.90,382.13 L90.40,382.69 L90.90,382.13 L91.40,382.40 L91.90,382.04 L92.40,382.06 L92.90,381.38 L93.40,381.73 L93.90,381.13 L94.40,381.12 L94.90,381.31 L95.40,381.14 L95.90,380.46 L96.40,380.32 L96.90,380.30 L97.40,380.22 L97.90,379.94 L98.40,379.55 L98.90,379.47 L99.40,379.66 L99.90,379.62 L100.40,378.74 L100.90,378.97 L101.40,378.93 L101.90,378.15 L102.40,378.59 L102.90,377.81 L103.40,377.99 L103.90,377.74 L104.40,377.59 L104.90,377.12 L105.40,377.00 L105.90,376.91 L106.40,376.57 L106.90,376.53 L107.40,376.14 L107.90,375.91 L108.40,375.35 L108.90,375.59 L109.40,375.26 L109.90,374.82 L110.40,375.01 L110.90,374.79 L111.40,374.30 L111.90,373.84 L112.40,373.84 L112.90,373.31 L113.40,373.09 L113.90,373.10 L114.40,372.59 L114.90,372.63 L115.40,372.45 L115.90,371.84 L116.40,372.08 L116.90,371.41 L117.40,371.70 L117.90,371.51 L118.40,371.07 L118.90,370.48 L119.40,370.62 L119.90,370.31 L120.40,370.56 L120.90,369.70 L121.40,370.07 L121.90,369.99 L122.40,369.59 L122.90,369.47 L123.40,368.80 L123.90,369.26 L124.40,368.71 L124.90,368.94 L125.40,368.77 L125.90,368.05 L126.40,368.44 L126.90,368.46 L127.40,367.70 L127.90,367.92 L128.40,368.29 L128.90,367.87 L129.40,368.54 L129.90,368.13 L130.40,368.67 L130.90,368.24 L131.40,368.64 L131.90,369.10 L132.40,368.67 L132.90,368.85 L133.40,369.19 L133.90,369.19 L134.40,369.12 L134.90,369.39 L135.40,369.54 L135.90,370.32 L136.40,370.29 L136.90,370.63 L137.40,370.23 L137.90,370.90 L138.40,370.55 L138.90,371.06 L139.40,371.33 L139.90,371.30 L140.40,371.90 L140.90,371.84 L141.40,372.05 L141.90,372.48 L142.40,372.05 L142.90,372.96 L143.40,372.86 L143.90,372.87 L144.40,373.39 L144.90,373.16 L145.40,373.93 L145.90,373.80 L146.40,373.82 L146.90,374.34 L147.40,374.28 L147.90,374.26 L148.40,374.90 L148.90,374.54 L149.40,375.35 L149.90,375.09 L150.40,375.59 L150.90,376.05 L151.40,375.92 L151.90,376.17 L152.40,376.07 L152.90,376.01 L153.40,376.22 L153.90,376.49 L154.40,377.05 L154.90,377.08 L155.40,377.32 L155.90,377.80 L156.40,377.36 L156.90,377.61 L157.40,378.12 L157.90,377.78 L158.40,377.93 L158.90,378.38 L159.40,378.34 L159.90,378.71 L160.40,378.76 L160.90,379.20 L161.40,379.36 L161.90,379.21 L162.40,379.69 L162.90,379.72 L163.40,379.60 L163.90,380.38 L164.40,379.97 L164.90,380.04 L165.40,380.13 L165.90,380.70 L166.40,381.03 L166.90,381.09 L167.40,380.91 L167.90,380.93 L168.40,380.86 L168.90,381.49 L169.40,381.54 L169.90,381.49 L170.40,381.85 L170.90,381.80 L171.40,382.31 L171.90,382.26 L172.40,381.99 L172.90,382.62 L173.40,382.04 L173.90,382.53 L174.40,382.54 L174.90,382.50 L175.40,382.46 L175.90,383.13 L176.40,382.61 L176.90,383.14 L177.40,383.54 L177.90,382.99 L178.40,383.13 L178.90,383.54 L179.40,383.54 L179.90,383.73 L180.40,383.95 L180.90,383.52 L181.40,383.71 L181.90,383.78 L182.40,383.65 L182.90,384.40 L183.40,384.38 L183.90,384.40 L184.40,383.90 L184.90,384.64 L185.40,384.62 L185.90,384.47 L186.40,384.75 L186.90,384.58 L187.40,384.46 L187.90,384.42 L188.40,384.58 L188.90,384.48 L189.40,384.77 L189.90,385.16 L190.40,385.17 L190.90,385.34 L191.40,385.28 L191.90,384.97 L192.40,385.25 L192.90,385.20 L193.40,385.53 L193.90,385.36 L194.40,385.20 L194.90,385.54 L195.40,385.84 L195.90,385.28 L196.40,385.85 L196.90,385.19 L197.40,385.43 L197.90,385.44 L198.40,385.89 L198.90,386.08 L199.40,385.95 L199.90,385.65 L200.40,386.13 L200.90,385.71 L201.40,385.67 L201.90,386.24 L202.40,386.04 L202.90,386.12 L203.40,386.12 L203.90,386.40 L204.40,386.02 L204.90,386.34 L205.40,386.25 L205.90,386.40 L206.40,386.09 L206.90,386.34 L207.40,386.24 L207.90,386.05 L208.40,385.99 L208.90,386.34 L209.40,385.92 L209.90,386.61 L210.40,386.01 L210.90,385.93 L211.40,386.01 L211.90,386.69 L212.40,386.24 L212.90,386.09 L213.40,386.01 L213.90,386.04 L214.40,386.57 L214.90,386.54 L215.40,386.60 L215.90,386.65 L216.40,386.12 L216.90,386.56 L217.40,386.39 L217.90,386.76 L218.40,386.77 L218.90,386.84 L219.40,386.19 L219.90,386.84 L220.40,386.89 L220.90,386.92 L221.40,386.26 L221.90,386.35 L222.40,386.28 L222.90,386.23 L223.40,386.88 L223.90,386.86 L224.40,386.73 L224.90,386.89 L225.40,386.74 L225.90,386.47 L226.40,386.33 L226.90,386.33 L227.40,386.87 L227.90,386.43 L228.40,386.53 L228.90,386.61 L229.40,386.30 L229.90,386.49 L230.40,386.52 L230.90,386.87 L231.40,386.59 L231.90,386.56 L232.40,387.08 L232.90,386.71 L233.40,386.99 L233.90,386.81 L234.40,386.34 L234.90,386.65 L235.40,386.68 L235.90,386.95 L236.40,386.61 L236.90,386.90 L237.40,386.77 L237.90,386.51 L238.40,387.03 L238.90,386.42 L239.40,387.00 L239.90,386.48 L240.40,386.35 L240.90,386.51 L241.40,386.96 L241.90,387.14 L242.40,386.36 L242.90,386.75 L243.40,386.75 L243.90,387.00 L244.40,386.51 L244.90,386.76 L245.40,386.64 L245.90,387.03 L246.40,386.57 L246.90,387.12 L247.40,386.59 L247.90,386.54 L248.40,386.93 L248.90,386.77 L249.40,386.46 L249.90,386.88 L250.40,386.44 L250.90,387.00 L251.40,386.93 L251.90,387.00 L252.40,386.87 L252.90,386.66 L253.40,386.69" fill="none" stroke="#555" stroke-width="0.9" stroke-dasharray="2.5,0.6"/>
<line x1="36.20" y1="391.50" x2="267.00" y2="391.50" stroke="#888" stroke-width="1.0" />
<line x1="42.58" y1="391.50" x2="42.58" y2="393.20" stroke="#666" stroke-width="0.8" />
<line x1="59.90" y1="391.50" x2="59.90" y2="396.70" stroke="#555" stroke-width="1.0" />
<line x1="77.22" y1="391.50" x2="77.22" y2="393.20" stroke="#666" stroke-width="0.8" />
<line x1="94.54" y1="391.50" x2="94.54" y2="393.20" stroke="#666" stroke-width="0.8" />
<line x1="111.86" y1="391.50" x2="111.86" y2="393.20" stroke="#666" stroke-width="0.8" />
<line x1="129.18" y1="391.50" x2="129.18" y2="393.20" stroke="#666" stroke-width="0.8" />
<line x1="146.50" y1="391.50" x2="146.50" y2="396.70" stroke="#555" stroke-width="1.0" />
<line x1="163.82" y1="391.50" x2="163.82" y2="393.20" stroke="#666" stroke-width="0.8" />
<line x1="181.14" y1="391.50" x2="181.14" y2="393.20" stroke="#666" stroke-width="0.8" />
<line x1="198.46" y1="391.50" x2="198.46" y2="393.20" stroke="#666" stroke-width="0.8" />
<line x1="215.78" y1="391.50" x2="215.78" y2="393.20" stroke="#666" stroke-width="0.8" />
<line x1="233.10" y1="391.50" x2="233.10" y2="396.70" stroke="#555" stroke-width="1.0" />
<line x1="250.42" y1="391.50" x2="250.42" y2="393.20" stroke="#666" stroke-width="0.8" />
<text x="59.90" y="406.40" font-size="10" fill="#555" font-family='"Liberation Sans", sans-serif' font-weight="bold" text-anchor="middle" textLength="5.2" lengthAdjust="spacingAndGlyphs" >5</text>
<text x="146.20" y="406.20" font-size="10" fill="#666" font-family='"Liberation Sans", sans-serif' font-weight="bold" text-anchor="middle" textLength="4.6" lengthAdjust="spacingAndGlyphs" >0</text>
<text x="232.20" y="406.20" font-size="10" fill="#555" font-family='"Liberation Sans", sans-serif' font-weight="bold" text-anchor="middle" textLength="10.6" lengthAdjust="spacingAndGlyphs" >−5</text>
<text x="247.00" y="409.80" font-size="9.5" fill="#555" font-family='Liberation Mono, monospace' font-weight="bold" text-anchor="start" textLength="17.4" lengthAdjust="spacingAndGlyphs" >ppm</text>
<text x="227.20" y="260.20" font-size="6.4" fill="#333" font-family='"Liberation Serif", serif' font-weight="bold" text-anchor="start" textLength="14.8" lengthAdjust="spacingAndGlyphs" >1 M Li</text>
<text x="225.00" y="286.50" font-size="6.4" fill="#333" font-family='"Liberation Serif", serif' font-weight="bold" text-anchor="start" textLength="19.4" lengthAdjust="spacingAndGlyphs" >0.5 M Li</text>
<text x="226.00" y="321.00" font-size="6.4" fill="#333" font-family='"Liberation Serif", serif' font-weight="bold" text-anchor="start" textLength="18.4" lengthAdjust="spacingAndGlyphs" >0.1 M Li</text>
<text x="226.00" y="360.80" font-size="6.4" fill="#333" font-family='"Liberation Serif", serif' font-weight="bold" text-anchor="start" textLength="21.9" lengthAdjust="spacingAndGlyphs" >0.03 M Li</text>
<text x="225.70" y="381.60" font-size="6.4" fill="#333" font-family='"Liberation Serif", serif' font-weight="bold" text-anchor="start" textLength="22.6" lengthAdjust="spacingAndGlyphs" >0.01 M Li</text>
<text x="73.00" y="258.20" font-size="19.8" fill="#1fb04f" font-family='"Liberation Sans", sans-serif' font-weight="normal" text-anchor="start" textLength="38.5" lengthAdjust="spacingAndGlyphs" stroke="#1fb04f" stroke-width="0.7">NMR</text>
<rect x="310.2" y="249.8" width="231.10" height="155.20" fill="none" stroke="#7a7a7a" stroke-width="1.1"/>
<line x1="309.78" y1="405.00" x2="309.78" y2="406.80" stroke="#7a7a7a" stroke-width="0.8" />
<line x1="309.78" y1="249.80" x2="309.78" y2="251.30" stroke="#7a7a7a" stroke-width="0.8" />
<line x1="316.59" y1="405.00" x2="316.59" y2="406.80" stroke="#7a7a7a" stroke-width="0.8" />
<line x1="316.59" y1="249.80" x2="316.59" y2="251.30" stroke="#7a7a7a" stroke-width="0.8" />
<line x1="323.40" y1="405.00" x2="323.40" y2="407.80" stroke="#7a7a7a" stroke-width="1.0" />
<line x1="323.40" y1="249.80" x2="323.40" y2="252.00" stroke="#7a7a7a" stroke-width="0.8" />
<line x1="330.21" y1="405.00" x2="330.21" y2="406.80" stroke="#7a7a7a" stroke-width="0.8" />
<line x1="330.21" y1="249.80" x2="330.21" y2="251.30" stroke="#7a7a7a" stroke-width="0.8" />
<line x1="337.02" y1="405.00" x2="337.02" y2="406.80" stroke="#7a7a7a" stroke-width="0.8" />
<line x1="337.02" y1="249.80" x2="337.02" y2="251.30" stroke="#7a7a7a" stroke-width="0.8" />
<line x1="343.83" y1="405.00" x2="343.83" y2="406.80" stroke="#7a7a7a" stroke-width="0.8" />
<line x1="343.83" y1="249.80" x2="343.83" y2="251.30" stroke="#7a7a7a" stroke-width="0.8" />
<line x1="350.64" y1="405.00" x2="350.64" y2="407.80" stroke="#7a7a7a" stroke-width="1.0" />
<line x1="350.64" y1="249.80" x2="350.64" y2="252.00" stroke="#7a7a7a" stroke-width="0.8" />
<line x1="357.45" y1="405.00" x2="357.45" y2="406.80" stroke="#7a7a7a" stroke-width="0.8" />
<line x1="357.45" y1="249.80" x2="357.45" y2="251.30" stroke="#7a7a7a" stroke-width="0.8" />
<line x1="364.26" y1="405.00" x2="364.26" y2="406.80" stroke="#7a7a7a" stroke-width="0.8" />
<line x1="364.26" y1="249.80" x2="364.26" y2="251.30" stroke="#7a7a7a" stroke-width="0.8" />
<line x1="371.06" y1="405.00" x2="371.06" y2="406.80" stroke="#7a7a7a" stroke-width="0.8" />
<line x1="371.06" y1="249.80" x2="371.06" y2="251.30" stroke="#7a7a7a" stroke-width="0.8" />
<line x1="377.87" y1="405.00" x2="377.87" y2="407.80" stroke="#7a7a7a" stroke-width="1.0" />
<line x1="377.87" y1="249.80" x2="377.87" y2="252.00" stroke="#7a7a7a" stroke-width="0.8" />
<line x1="384.68" y1="405.00" x2="384.68" y2="406.80" stroke="#7a7a7a" stroke-width="0.8" />
<line x1="384.68" y1="249.80" x2="384.68" y2="251.30" stroke="#7a7a7a" stroke-width="0.8" />
<line x1="391.49" y1="405.00" x2="391.49" y2="406.80" stroke="#7a7a7a" stroke-width="0.8" />
<line x1="391.49" y1="249.80" x2="391.49" y2="251.30" stroke="#7a7a7a" stroke-width="0.8" />
<line x1="398.30" y1="405.00" x2="398.30" y2="406.80" stroke="#7a7a7a" stroke-width="0.8" />
<line x1="398.30" y1="249.80" x2="398.30" y2="251.30" stroke="#7a7a7a" stroke-width="0.8" />
<line x1="405.11" y1="405.00" x2="405.11" y2="407.80" stroke="#7a7a7a" stroke-width="1.0" />
<line x1="405.11" y1="249.80" x2="405.11" y2="252.00" stroke="#7a7a7a" stroke-width="0.8" />
<line x1="411.92" y1="405.00" x2="411.92" y2="406.80" stroke="#7a7a7a" stroke-width="0.8" />
<line x1="411.92" y1="249.80" x2="411.92" y2="251.30" stroke="#7a7a7a" stroke-width="0.8" />
<line x1="418.73" y1="405.00" x2="418.73" y2="406.80" stroke="#7a7a7a" stroke-width="0.8" />
<line x1="418.73" y1="249.80" x2="418.73" y2="251.30" stroke="#7a7a7a" stroke-width="0.8" />
<line x1="425.54" y1="405.00" x2="425.54" y2="406.80" stroke="#7a7a7a" stroke-width="0.8" />
<line x1="425.54" y1="249.80" x2="425.54" y2="251.30" stroke="#7a7a7a" stroke-width="0.8" />
<line x1="432.35" y1="405.00" x2="432.35" y2="407.80" stroke="#7a7a7a" stroke-width="1.0" />
<line x1="432.35" y1="249.80" x2="432.35" y2="252.00" stroke="#7a7a7a" stroke-width="0.8" />
<line x1="439.16" y1="405.00" x2="439.16" y2="406.80" stroke="#7a7a7a" stroke-width="0.8" />
<line x1="439.16" y1="249.80" x2="439.16" y2="251.30" stroke="#7a7a7a" stroke-width="0.8" />
<line x1="445.97" y1="405.00" x2="445.97" y2="406.80" stroke="#7a7a7a" stroke-width="0.8" />
<line x1="445.97" y1="249.80" x2="445.97" y2="251.30" stroke="#7a7a7a" stroke-width="0.8" />
<line x1="452.78" y1="405.00" x2="452.78" y2="406.80" stroke="#7a7a7a" stroke-width="0.8" />
<line x1="452.78" y1="249.80" x2="452.78" y2="251.30" stroke="#7a7a7a" stroke-width="0.8" />
<line x1="459.58" y1="405.00" x2="459.58" y2="407.80" stroke="#7a7a7a" stroke-width="1.0" />
<line x1="459.58" y1="249.80" x2="459.58" y2="252.00" stroke="#7a7a7a" stroke-width="0.8" />
<line x1="466.39" y1="405.00" x2="466.39" y2="406.80" stroke="#7a7a7a" stroke-width="0.8" />
<line x1="466.39" y1="249.80" x2="466.39" y2="251.30" stroke="#7a7a7a" stroke-width="0.8" />
<line x1="473.20" y1="405.00" x2="473.20" y2="406.80" stroke="#7a7a7a" stroke-width="0.8" />
<line x1="473.20" y1="249.80" x2="473.20" y2="251.30" stroke="#7a7a7a" stroke-width="0.8" />
<line x1="480.01" y1="405.00" x2="480.01" y2="406.80" stroke="#7a7a7a" stroke-width="0.8" />
<line x1="480.01" y1="249.80" x2="480.01" y2="251.30" stroke="#7a7a7a" stroke-width="0.8" />
<line x1="486.82" y1="405.00" x2="486.82" y2="407.80" stroke="#7a7a7a" stroke-width="1.0" />
<line x1="486.82" y1="249.80" x2="486.82" y2="252.00" stroke="#7a7a7a" stroke-width="0.8" />
<line x1="493.63" y1="405.00" x2="493.63" y2="406.80" stroke="#7a7a7a" stroke-width="0.8" />
<line x1="493.63" y1="249.80" x2="493.63" y2="251.30" stroke="#7a7a7a" stroke-width="0.8" />
<line x1="500.44" y1="405.00" x2="500.44" y2="406.80" stroke="#7a7a7a" stroke-width="0.8" />
<line x1="500.44" y1="249.80" x2="500.44" y2="251.30" stroke="#7a7a7a" stroke-width="0.8" />
<line x1="507.25" y1="405.00" x2="507.25" y2="406.80" stroke="#7a7a7a" stroke-width="0.8" />
<line x1="507.25" y1="249.80" x2="507.25" y2="251.30" stroke="#7a7a7a" stroke-width="0.8" />
<line x1="514.06" y1="405.00" x2="514.06" y2="407.80" stroke="#7a7a7a" stroke-width="1.0" />
<line x1="514.06" y1="249.80" x2="514.06" y2="252.00" stroke="#7a7a7a" stroke-width="0.8" />
<line x1="520.87" y1="405.00" x2="520.87" y2="406.80" stroke="#7a7a7a" stroke-width="0.8" />
<line x1="520.87" y1="249.80" x2="520.87" y2="251.30" stroke="#7a7a7a" stroke-width="0.8" />
<line x1="527.68" y1="405.00" x2="527.68" y2="406.80" stroke="#7a7a7a" stroke-width="0.8" />
<line x1="527.68" y1="249.80" x2="527.68" y2="251.30" stroke="#7a7a7a" stroke-width="0.8" />
<line x1="534.49" y1="405.00" x2="534.49" y2="406.80" stroke="#7a7a7a" stroke-width="0.8" />
<line x1="534.49" y1="249.80" x2="534.49" y2="251.30" stroke="#7a7a7a" stroke-width="0.8" />
<line x1="541.30" y1="405.00" x2="541.30" y2="407.80" stroke="#7a7a7a" stroke-width="1.0" />
<line x1="541.30" y1="249.80" x2="541.30" y2="252.00" stroke="#7a7a7a" stroke-width="0.8" />
<text x="323.40" y="415.80" font-size="7.7" fill="#555" font-family='"Liberation Sans", sans-serif' font-weight="normal" text-anchor="middle" textLength="17" lengthAdjust="spacingAndGlyphs" >1200</text>
<text x="350.64" y="415.80" font-size="7.7" fill="#555" font-family='"Liberation Sans", sans-serif' font-weight="normal" text-anchor="middle" textLength="17" lengthAdjust="spacingAndGlyphs" >1100</text>
<text x="377.87" y="415.80" font-size="7.7" fill="#555" font-family='"Liberation Sans", sans-serif' font-weight="normal" text-anchor="middle" textLength="17" lengthAdjust="spacingAndGlyphs" >1000</text>
<text x="405.11" y="415.80" font-size="7.7" fill="#555" font-family='"Liberation Sans", sans-serif' font-weight="normal" text-anchor="middle" textLength="12.8" lengthAdjust="spacingAndGlyphs" >900</text>
<text x="432.35" y="415.80" font-size="7.7" fill="#555" font-family='"Liberation Sans", sans-serif' font-weight="normal" text-anchor="middle" textLength="12.8" lengthAdjust="spacingAndGlyphs" >800</text>
<text x="459.58" y="415.80" font-size="7.7" fill="#555" font-family='"Liberation Sans", sans-serif' font-weight="normal" text-anchor="middle" textLength="12.8" lengthAdjust="spacingAndGlyphs" >700</text>
<text x="486.82" y="415.80" font-size="7.7" fill="#555" font-family='"Liberation Sans", sans-serif' font-weight="normal" text-anchor="middle" textLength="12.8" lengthAdjust="spacingAndGlyphs" >600</text>
<text x="514.06" y="415.80" font-size="7.7" fill="#555" font-family='"Liberation Sans", sans-serif' font-weight="normal" text-anchor="middle" textLength="12.8" lengthAdjust="spacingAndGlyphs" >500</text>
<text x="541.30" y="415.80" font-size="7.7" fill="#555" font-family='"Liberation Sans", sans-serif' font-weight="normal" text-anchor="middle" textLength="12.8" lengthAdjust="spacingAndGlyphs" >400</text>
<text x="378.7" y="431.3" font-size="9.2" fill="#333" font-family='"Liberation Sans", sans-serif' font-weight="bold"><tspan textLength="57" lengthAdjust="spacingAndGlyphs">Wavenumber</tspan><tspan x="439.6" font-weight="normal" fill="#777">(</tspan><tspan x="446.9">cm</tspan><tspan x="461.2" dy="-3.2" font-size="6">-1</tspan><tspan x="468.6" dy="3.2" font-weight="normal" fill="#777">)</tspan></text>
<text x="0" y="0" font-size="8.8" fill="#333" font-family='"Liberation Sans", sans-serif' font-weight="bold" text-anchor="middle" textLength="82" lengthAdjust="spacingAndGlyphs" transform="translate(298.9,329.0) rotate(-90)">Transmittance (a.u.)</text>
<text x="314.50" y="269.60" font-size="12.5" fill="#333" font-family='"Liberation Sans", sans-serif' font-weight="normal" text-anchor="start" textLength="15.8" lengthAdjust="spacingAndGlyphs" >(a)</text>
<text x="314.50" y="297.60" font-size="12.5" fill="#333" font-family='"Liberation Sans", sans-serif' font-weight="normal" text-anchor="start" textLength="15.8" lengthAdjust="spacingAndGlyphs" >(b)</text>
<text x="314.50" y="322.40" font-size="12.5" fill="#333" font-family='"Liberation Sans", sans-serif' font-weight="normal" text-anchor="start" textLength="15.8" lengthAdjust="spacingAndGlyphs" >(c)</text>
<text x="314.50" y="350.40" font-size="12.5" fill="#333" font-family='"Liberation Sans", sans-serif' font-weight="normal" text-anchor="start" textLength="15.8" lengthAdjust="spacingAndGlyphs" >(d)</text>
<path d="M310.20,273.00 C311.83,273.03 317.37,273.10 320.00,273.20 C322.63,273.30 324.65,273.08 326.00,273.60 C327.35,274.12 327.50,276.13 328.10,276.30 C328.70,276.47 329.03,273.90 329.60,274.60 C330.17,275.30 330.90,280.30 331.50,280.50 C332.10,280.70 332.28,277.08 333.20,275.80 C334.12,274.52 335.53,273.38 337.00,272.80 C338.47,272.22 340.13,272.45 342.00,272.30 C343.87,272.15 346.70,271.70 348.20,271.90 C349.70,272.10 350.13,272.77 351.00,273.50 C351.87,274.23 352.73,276.12 353.40,276.30 C354.07,276.48 354.50,274.78 355.00,274.60 C355.50,274.42 355.90,275.27 356.40,275.20 C356.90,275.13 357.50,273.97 358.00,274.20 C358.50,274.43 358.82,276.72 359.40,276.60 C359.98,276.48 360.60,273.90 361.50,273.50 C362.40,273.10 363.98,273.35 364.80,274.20 C365.62,275.05 365.83,278.63 366.40,278.60 C366.97,278.57 367.27,274.97 368.20,274.00 C369.13,273.03 370.87,272.67 372.00,272.80 C373.13,272.93 374.23,273.20 375.00,274.80 C375.77,276.40 376.03,282.37 376.60,282.40 C377.17,282.43 377.33,276.63 378.40,275.00 C379.47,273.37 380.23,273.07 383.00,272.60 C385.77,272.13 391.87,272.03 395.00,272.20 C398.13,272.37 400.28,271.90 401.80,273.60 C403.32,275.30 403.37,282.25 404.10,282.40 C404.83,282.55 404.88,276.10 406.20,274.50 C407.52,272.90 409.70,273.05 412.00,272.80 C414.30,272.55 417.52,273.03 420.00,273.00 C422.48,272.97 424.40,272.50 426.90,272.60 C429.40,272.70 433.17,273.25 435.00,273.60 C436.83,273.95 436.83,274.75 437.90,274.70 C438.97,274.65 440.23,273.20 441.40,273.30 C442.57,273.40 443.83,273.72 444.90,275.30 C445.97,276.88 446.83,278.65 447.80,282.80 C448.77,286.95 450.03,296.72 450.70,300.20 C451.37,303.68 451.32,305.25 451.80,303.70 C452.28,302.15 453.02,295.27 453.60,290.90 C454.18,286.53 454.73,279.73 455.30,277.50 C455.87,275.27 456.42,275.07 457.00,277.50 C457.58,279.93 458.22,287.93 458.80,292.10 C459.38,296.27 459.93,302.70 460.50,302.50 C461.07,302.30 461.52,294.75 462.20,290.90 C462.88,287.05 463.53,282.18 464.60,279.40 C465.67,276.62 466.77,275.33 468.60,274.20 C470.43,273.07 473.33,272.92 475.60,272.60 C477.87,272.28 480.85,271.37 482.20,272.30 C483.55,273.23 483.18,278.08 483.70,278.20 C484.22,278.32 483.38,274.00 485.30,273.00 C487.22,272.00 491.42,272.33 495.20,272.20 C498.98,272.07 504.13,272.07 508.00,272.20 C511.87,272.33 515.62,272.48 518.40,273.00 C521.18,273.52 522.77,275.25 524.70,275.30 C526.63,275.35 527.28,273.78 530.00,273.30 C532.72,272.82 539.17,272.55 541.00,272.40" fill="none" stroke="#808080" stroke-width="1.1" />
<path d="M310.20,301.30 C312.35,301.43 318.43,301.47 323.10,302.10 C327.77,302.73 334.00,303.75 338.20,305.10 C342.40,306.45 345.77,308.42 348.30,310.20 C350.83,311.98 351.92,313.70 353.40,315.80 C354.88,317.90 355.95,322.68 357.20,322.80 C358.45,322.92 359.23,319.03 360.90,316.50 C362.57,313.97 365.10,309.70 367.20,307.60 C369.30,305.50 369.50,304.95 373.50,303.90 C377.50,302.85 386.15,301.68 391.20,301.30 C396.25,300.92 400.65,300.88 403.80,301.60 C406.95,302.32 408.00,305.43 410.10,305.60 C412.20,305.77 413.92,303.10 416.40,302.60 C418.88,302.10 421.05,302.10 425.00,302.60 C428.95,303.10 436.10,304.68 440.10,305.60 C444.10,306.52 446.90,307.85 449.00,308.10 C451.10,308.35 450.82,306.67 452.70,307.10 C454.58,307.53 458.20,310.18 460.30,310.70 C462.40,311.22 462.78,309.45 465.30,310.20 C467.82,310.95 472.03,312.68 475.40,315.20 C478.77,317.72 482.55,322.35 485.50,325.30 C488.45,328.25 490.78,331.22 493.10,332.90 C495.42,334.58 496.47,335.05 499.40,335.40 C502.33,335.75 507.55,334.80 510.70,335.00 C513.85,335.20 515.57,335.70 518.30,336.60 C521.03,337.50 524.58,340.40 527.10,340.40 C529.62,340.40 531.03,339.12 533.40,336.60 C535.77,334.08 539.98,327.18 541.30,325.30" fill="none" stroke="#808080" stroke-width="1.1" />
<path d="M310.20,326.60 C311.93,326.80 316.77,327.18 320.60,327.80 C324.43,328.42 329.00,329.25 333.20,330.30 C337.40,331.35 342.65,331.98 345.80,334.10 C348.95,336.22 350.42,339.02 352.10,343.00 C353.78,346.98 354.85,354.65 355.90,358.00 C356.95,361.35 357.35,363.93 358.40,363.10 C359.45,362.27 360.73,358.03 362.20,353.00 C363.67,347.97 365.32,336.88 367.20,332.90 C369.08,328.92 369.50,330.15 373.50,329.10 C377.50,328.05 385.32,326.82 391.20,326.60 C397.08,326.38 404.60,327.18 408.80,327.80 C413.00,328.42 413.70,329.88 416.40,330.30 C419.10,330.72 421.05,330.17 425.00,330.30 C428.95,330.43 436.10,330.47 440.10,331.10 C444.10,331.73 446.90,333.90 449.00,334.10 C451.10,334.30 450.82,331.88 452.70,332.30 C454.58,332.72 458.20,336.08 460.30,336.60 C462.40,337.12 462.78,334.77 465.30,335.40 C467.82,336.03 472.03,337.67 475.40,340.40 C478.77,343.13 482.55,348.43 485.50,351.80 C488.45,355.17 490.78,358.38 493.10,360.60 C495.42,362.82 496.47,364.90 499.40,365.10 C502.33,365.30 507.55,361.92 510.70,361.80 C513.85,361.68 515.35,363.00 518.30,364.40 C521.25,365.80 525.47,370.42 528.40,370.20 C531.33,369.98 533.75,365.97 535.90,363.10 C538.05,360.23 540.40,354.68 541.30,353.00" fill="none" stroke="#808080" stroke-width="1.1" />
<path d="M310.20,353.00 C312.35,353.22 318.43,353.67 323.10,354.30 C327.77,354.93 334.00,355.33 338.20,356.80 C342.40,358.27 345.77,360.37 348.30,363.10 C350.83,365.83 351.92,369.63 353.40,373.20 C354.88,376.77 356.33,382.40 357.20,384.50 C358.07,386.60 357.77,387.27 358.60,385.80 C359.43,384.33 360.77,379.90 362.20,375.70 C363.63,371.50 365.32,363.75 367.20,360.60 C369.08,357.45 369.50,357.85 373.50,356.80 C377.50,355.75 385.32,354.43 391.20,354.30 C397.08,354.17 404.18,355.17 408.80,356.00 C413.42,356.83 415.70,359.17 418.90,359.30 C422.10,359.43 424.47,356.92 428.00,356.80 C431.53,356.68 437.23,357.97 440.10,358.60 C442.97,359.23 443.72,359.93 445.20,360.60 C446.68,361.27 447.75,362.68 449.00,362.60 C450.25,362.52 450.82,359.68 452.70,360.10 C454.58,360.52 458.20,364.60 460.30,365.10 C462.40,365.60 462.78,362.60 465.30,363.10 C467.82,363.60 472.03,365.58 475.40,368.10 C478.77,370.62 482.55,375.47 485.50,378.20 C488.45,380.93 490.78,382.90 493.10,384.50 C495.42,386.10 496.47,387.80 499.40,387.80 C502.33,387.80 507.55,384.42 510.70,384.50 C513.85,384.58 515.35,386.40 518.30,388.30 C521.25,390.20 525.47,395.48 528.40,395.90 C531.33,396.32 533.75,393.33 535.90,390.80 C538.05,388.27 540.40,382.38 541.30,380.70" fill="none" stroke="#808080" stroke-width="1.1" />
<line x1="498.90" y1="250.80" x2="498.90" y2="404.00" stroke="#4cbb66" stroke-width="1.0" stroke-dasharray="1.4,1.8"/>
<text x="364.30" y="259.50" font-size="8.5" fill="#666" font-family='"Liberation Sans", sans-serif' font-weight="normal" text-anchor="start" textLength="41.7" lengthAdjust="spacingAndGlyphs" >1M Bp/DME</text>
<path d="M412.55,252.80 L412.55,253.66 M409.18,254.96 L409.18,253.88 L415.93,253.88 L415.93,254.96 M411.65,254.60 L410.30,256.04 M413.45,254.60 L414.80,256.04 M410.30,256.98 L414.80,256.98 M412.55,256.98 L412.55,259.64 M409.18,259.64 L415.93,259.64 " fill="none" stroke="#5a5a5a" stroke-width="0.75" />
<path d="M420.85,252.80 L419.80,254.10 M417.84,259.64 L417.84,254.24 L423.16,254.24 L423.16,259.64 L417.84,259.64 M417.84,256.90 L423.16,256.90 " fill="none" stroke="#5a5a5a" stroke-width="0.75" />
<path d="M424.98,253.38 L425.73,254.24 M424.75,255.68 L425.65,256.40 M424.75,259.64 L426.10,257.48 M429.25,252.80 L429.25,253.52 M426.85,254.60 L426.85,253.66 L431.95,253.66 L431.95,254.60 M427.98,254.96 L427.23,256.04 M430.60,254.96 L431.35,256.04 M429.25,254.96 L427.23,257.12 M429.25,254.96 L431.73,257.12 M427.75,259.64 L427.75,257.48 L431.20,257.48 L431.20,259.64 L427.75,259.64 " fill="none" stroke="#5a5a5a" stroke-width="0.75" />
<path d="M433.59,253.38 L434.37,254.24 M433.36,255.68 L434.29,256.40 M433.36,259.64 L434.76,257.48 M438.04,252.80 L438.04,253.66 M435.38,253.88 L440.84,253.88 M436.48,254.96 L435.70,257.12 M436.16,256.04 L436.16,259.86 M437.88,255.32 L440.61,255.32 L437.49,259.64 M438.27,256.76 L440.84,259.64 " fill="none" stroke="#5a5a5a" stroke-width="0.75" />
<text x="368.00" y="290.30" font-size="8.5" fill="#666" font-family='"Liberation Sans", sans-serif' font-weight="normal" text-anchor="start" textLength="62.7" lengthAdjust="spacingAndGlyphs" >0.01M Bp/DME-Li</text>
<text x="369.20" y="319.20" font-size="8.5" fill="#666" font-family='"Liberation Sans", sans-serif' font-weight="normal" text-anchor="start" textLength="58.0" lengthAdjust="spacingAndGlyphs" >0.1M Bp/DME-Li</text>
<text x="376.20" y="348.20" font-size="8.5" fill="#666" font-family='"Liberation Sans", sans-serif' font-weight="normal" text-anchor="start" textLength="50.5" lengthAdjust="spacingAndGlyphs" >1M Bp/DME-Li</text>
<text x="496.80" y="267.90" font-size="19.8" fill="#1fb04f" font-family='"Liberation Sans", sans-serif' font-weight="normal" text-anchor="start" textLength="34.6" lengthAdjust="spacingAndGlyphs" stroke="#1fb04f" stroke-width="0.4">FTIR</text>
</svg>
</body></html>
